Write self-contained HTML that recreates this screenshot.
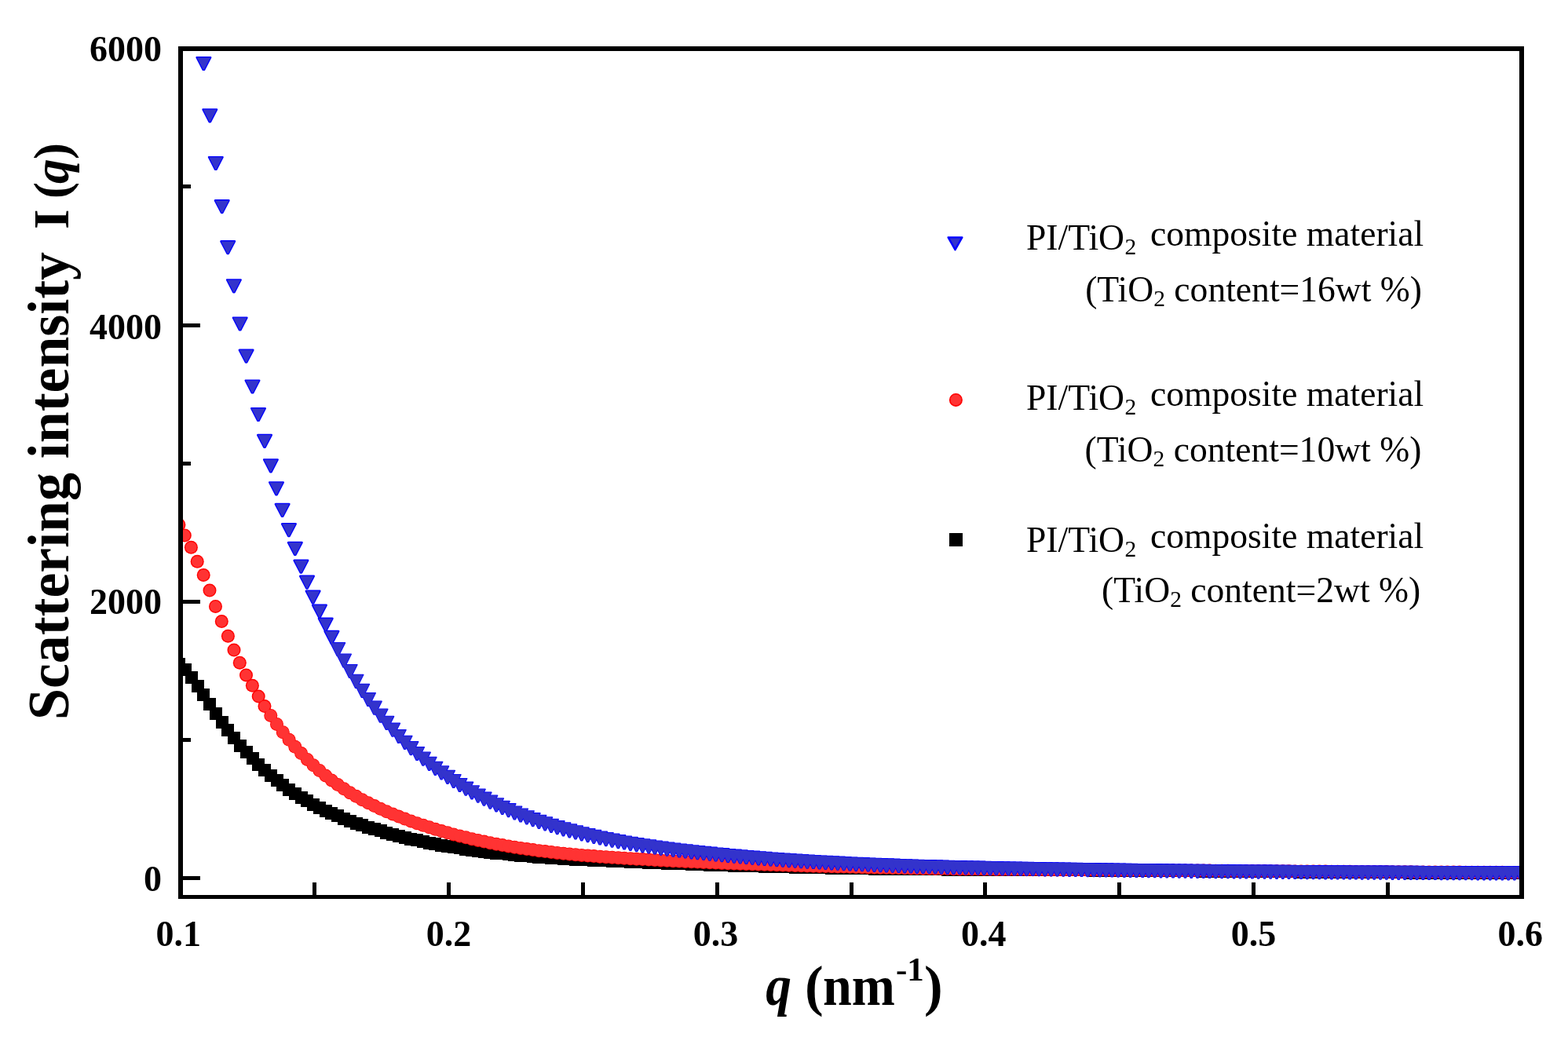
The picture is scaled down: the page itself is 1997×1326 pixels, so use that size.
<!DOCTYPE html>
<html><head><meta charset="utf-8"><title>Scattering intensity</title><style>
html,body{margin:0;padding:0;background:#fff;overflow:hidden}
svg{display:block}
text{font-family:"Liberation Serif","Times New Roman",serif;fill:#000}
.b{font-weight:bold}
</style></head><body>
<svg width="1997" height="1326" viewBox="0 0 1997 1326">
<defs><clipPath id="pa"><rect x="233" y="65" width="1702" height="1075"/></clipPath></defs>
<rect x="0" y="0" width="1997" height="1326" fill="#fff"/>
<g clip-path="url(#pa)">
<g fill="#000" shape-rendering="crispEdges">
<rect x="220.3" y="838" width="16" height="16"/>
<rect x="228.1" y="845" width="16" height="16"/>
<rect x="235.8" y="855.1" width="16" height="16"/>
<rect x="243.6" y="866.2" width="16" height="16"/>
<rect x="251.4" y="877" width="16" height="16"/>
<rect x="259.1" y="889.1" width="16" height="16"/>
<rect x="266.9" y="901.2" width="16" height="16"/>
<rect x="274.7" y="912" width="16" height="16"/>
<rect x="282.4" y="922.4" width="16" height="16"/>
<rect x="290.2" y="932.3" width="16" height="16"/>
<rect x="297.9" y="941.6" width="16" height="16"/>
<rect x="305.7" y="950.3" width="16" height="16"/>
<rect x="313.5" y="958.4" width="16" height="16"/>
<rect x="321.2" y="966" width="16" height="16"/>
<rect x="329" y="973.1" width="16" height="16"/>
<rect x="336.8" y="979.8" width="16" height="16"/>
<rect x="344.5" y="986.1" width="16" height="16"/>
<rect x="352.3" y="991.9" width="16" height="16"/>
<rect x="360.1" y="997.5" width="16" height="16"/>
<rect x="367.8" y="1002.7" width="16" height="16"/>
<rect x="375.6" y="1007.6" width="16" height="16"/>
<rect x="383.4" y="1012.2" width="16" height="16"/>
<rect x="391.1" y="1016.5" width="16" height="16"/>
<rect x="398.9" y="1020.6" width="16" height="16"/>
<rect x="406.7" y="1024.5" width="16" height="16"/>
<rect x="414.4" y="1028.1" width="16" height="16"/>
<rect x="422.2" y="1031.4" width="16" height="16"/>
<rect x="430" y="1034.6" width="16" height="16"/>
<rect x="437.7" y="1037.6" width="16" height="16"/>
<rect x="445.5" y="1040.5" width="16" height="16"/>
<rect x="453.2" y="1043.1" width="16" height="16"/>
<rect x="461" y="1045.7" width="16" height="16"/>
<rect x="468.8" y="1048.1" width="16" height="16"/>
<rect x="476.5" y="1050.4" width="16" height="16"/>
<rect x="484.3" y="1052.6" width="16" height="16"/>
<rect x="492.1" y="1054.7" width="16" height="16"/>
<rect x="499.8" y="1056.7" width="16" height="16"/>
<rect x="507.6" y="1058.6" width="16" height="16"/>
<rect x="515.4" y="1060.5" width="16" height="16"/>
<rect x="523.1" y="1062.2" width="16" height="16"/>
<rect x="530.9" y="1063.9" width="16" height="16"/>
<rect x="538.7" y="1065.5" width="16" height="16"/>
<rect x="546.4" y="1067" width="16" height="16"/>
<rect x="554.2" y="1068.5" width="16" height="16"/>
<rect x="562" y="1069.9" width="16" height="16"/>
<rect x="569.7" y="1071.2" width="16" height="16"/>
<rect x="577.5" y="1072.4" width="16" height="16"/>
<rect x="585.3" y="1073.6" width="16" height="16"/>
<rect x="593" y="1074.7" width="16" height="16"/>
<rect x="600.8" y="1075.8" width="16" height="16"/>
<rect x="608.5" y="1076.8" width="16" height="16"/>
<rect x="616.3" y="1077.7" width="16" height="16"/>
<rect x="624.1" y="1078.6" width="16" height="16"/>
<rect x="631.8" y="1079.4" width="16" height="16"/>
<rect x="639.6" y="1080.2" width="16" height="16"/>
<rect x="647.4" y="1081" width="16" height="16"/>
<rect x="655.1" y="1081.7" width="16" height="16"/>
<rect x="662.9" y="1082.4" width="16" height="16"/>
<rect x="670.7" y="1083" width="16" height="16"/>
<rect x="678.4" y="1083.6" width="16" height="16"/>
<rect x="686.2" y="1084.1" width="16" height="16"/>
<rect x="694" y="1084.6" width="16" height="16"/>
<rect x="701.7" y="1085.1" width="16" height="16"/>
<rect x="709.5" y="1085.6" width="16" height="16"/>
<rect x="717.3" y="1086.1" width="16" height="16"/>
<rect x="725" y="1086.5" width="16" height="16"/>
<rect x="732.8" y="1086.9" width="16" height="16"/>
<rect x="740.6" y="1087.3" width="16" height="16"/>
<rect x="748.3" y="1087.6" width="16" height="16"/>
<rect x="756.1" y="1088" width="16" height="16"/>
<rect x="763.8" y="1088.3" width="16" height="16"/>
<rect x="771.6" y="1088.7" width="16" height="16"/>
<rect x="779.4" y="1089" width="16" height="16"/>
<rect x="787.1" y="1089.4" width="16" height="16"/>
<rect x="794.9" y="1089.7" width="16" height="16"/>
<rect x="802.7" y="1090" width="16" height="16"/>
<rect x="810.4" y="1090.3" width="16" height="16"/>
<rect x="818.2" y="1090.6" width="16" height="16"/>
<rect x="826" y="1090.9" width="16" height="16"/>
<rect x="833.7" y="1091.2" width="16" height="16"/>
<rect x="841.5" y="1091.5" width="16" height="16"/>
<rect x="849.3" y="1091.8" width="16" height="16"/>
<rect x="857" y="1092.1" width="16" height="16"/>
<rect x="864.8" y="1092.4" width="16" height="16"/>
<rect x="872.6" y="1092.7" width="16" height="16"/>
<rect x="880.3" y="1092.9" width="16" height="16"/>
<rect x="888.1" y="1093.2" width="16" height="16"/>
<rect x="895.9" y="1093.5" width="16" height="16"/>
<rect x="903.6" y="1093.7" width="16" height="16"/>
<rect x="911.4" y="1094" width="16" height="16"/>
<rect x="919.2" y="1094.2" width="16" height="16"/>
<rect x="926.9" y="1094.5" width="16" height="16"/>
<rect x="934.7" y="1094.7" width="16" height="16"/>
<rect x="942.4" y="1094.9" width="16" height="16"/>
<rect x="950.2" y="1095.2" width="16" height="16"/>
<rect x="958" y="1095.4" width="16" height="16"/>
<rect x="965.7" y="1095.6" width="16" height="16"/>
<rect x="973.5" y="1095.8" width="16" height="16"/>
<rect x="981.3" y="1096" width="16" height="16"/>
<rect x="989" y="1096.2" width="16" height="16"/>
<rect x="996.8" y="1096.4" width="16" height="16"/>
<rect x="1004.6" y="1096.6" width="16" height="16"/>
<rect x="1012.3" y="1096.7" width="16" height="16"/>
<rect x="1020.1" y="1096.9" width="16" height="16"/>
<rect x="1027.9" y="1097.1" width="16" height="16"/>
<rect x="1035.6" y="1097.3" width="16" height="16"/>
<rect x="1043.4" y="1097.4" width="16" height="16"/>
<rect x="1051.2" y="1097.6" width="16" height="16"/>
<rect x="1058.9" y="1097.7" width="16" height="16"/>
<rect x="1066.7" y="1097.9" width="16" height="16"/>
<rect x="1074.5" y="1098" width="16" height="16"/>
<rect x="1082.2" y="1098.1" width="16" height="16"/>
<rect x="1090" y="1098.3" width="16" height="16"/>
<rect x="1097.7" y="1098.4" width="16" height="16"/>
<rect x="1105.5" y="1098.5" width="16" height="16"/>
<rect x="1113.3" y="1098.6" width="16" height="16"/>
<rect x="1121" y="1098.7" width="16" height="16"/>
<rect x="1128.8" y="1098.8" width="16" height="16"/>
<rect x="1136.6" y="1098.9" width="16" height="16"/>
<rect x="1144.3" y="1099" width="16" height="16"/>
<rect x="1152.1" y="1099.1" width="16" height="16"/>
<rect x="1159.9" y="1099.1" width="16" height="16"/>
<rect x="1167.6" y="1099.2" width="16" height="16"/>
<rect x="1175.4" y="1099.3" width="16" height="16"/>
<rect x="1183.2" y="1099.3" width="16" height="16"/>
<rect x="1190.9" y="1099.4" width="16" height="16"/>
<rect x="1198.7" y="1099.5" width="16" height="16"/>
<rect x="1206.5" y="1099.5" width="16" height="16"/>
<rect x="1214.2" y="1099.6" width="16" height="16"/>
<rect x="1222" y="1099.6" width="16" height="16"/>
<rect x="1229.8" y="1099.7" width="16" height="16"/>
<rect x="1237.5" y="1099.7" width="16" height="16"/>
<rect x="1245.3" y="1099.8" width="16" height="16"/>
<rect x="1253" y="1099.8" width="16" height="16"/>
<rect x="1260.8" y="1099.8" width="16" height="16"/>
<rect x="1268.6" y="1099.9" width="16" height="16"/>
<rect x="1276.3" y="1099.9" width="16" height="16"/>
<rect x="1284.1" y="1100" width="16" height="16"/>
<rect x="1291.9" y="1100" width="16" height="16"/>
<rect x="1299.6" y="1100" width="16" height="16"/>
<rect x="1307.4" y="1100.1" width="16" height="16"/>
<rect x="1315.2" y="1100.1" width="16" height="16"/>
<rect x="1322.9" y="1100.1" width="16" height="16"/>
<rect x="1330.7" y="1100.2" width="16" height="16"/>
<rect x="1338.5" y="1100.2" width="16" height="16"/>
<rect x="1346.2" y="1100.3" width="16" height="16"/>
<rect x="1354" y="1100.3" width="16" height="16"/>
<rect x="1361.8" y="1100.3" width="16" height="16"/>
<rect x="1369.5" y="1100.4" width="16" height="16"/>
<rect x="1377.3" y="1100.4" width="16" height="16"/>
<rect x="1385" y="1100.5" width="16" height="16"/>
<rect x="1392.8" y="1100.5" width="16" height="16"/>
<rect x="1400.6" y="1100.6" width="16" height="16"/>
<rect x="1408.3" y="1100.6" width="16" height="16"/>
<rect x="1416.1" y="1100.7" width="16" height="16"/>
<rect x="1423.9" y="1100.7" width="16" height="16"/>
<rect x="1431.6" y="1100.8" width="16" height="16"/>
<rect x="1439.4" y="1100.8" width="16" height="16"/>
<rect x="1447.2" y="1100.9" width="16" height="16"/>
<rect x="1454.9" y="1100.9" width="16" height="16"/>
<rect x="1462.7" y="1101" width="16" height="16"/>
<rect x="1470.5" y="1101.1" width="16" height="16"/>
<rect x="1478.2" y="1101.1" width="16" height="16"/>
<rect x="1486" y="1101.2" width="16" height="16"/>
<rect x="1493.8" y="1101.2" width="16" height="16"/>
<rect x="1501.5" y="1101.3" width="16" height="16"/>
<rect x="1509.3" y="1101.4" width="16" height="16"/>
<rect x="1517.1" y="1101.4" width="16" height="16"/>
<rect x="1524.8" y="1101.5" width="16" height="16"/>
<rect x="1532.6" y="1101.5" width="16" height="16"/>
<rect x="1540.3" y="1101.6" width="16" height="16"/>
<rect x="1548.1" y="1101.7" width="16" height="16"/>
<rect x="1555.9" y="1101.7" width="16" height="16"/>
<rect x="1563.6" y="1101.8" width="16" height="16"/>
<rect x="1571.4" y="1101.9" width="16" height="16"/>
<rect x="1579.2" y="1101.9" width="16" height="16"/>
<rect x="1586.9" y="1102" width="16" height="16"/>
<rect x="1594.7" y="1102.1" width="16" height="16"/>
<rect x="1602.5" y="1102.1" width="16" height="16"/>
<rect x="1610.2" y="1102.2" width="16" height="16"/>
<rect x="1618" y="1102.2" width="16" height="16"/>
<rect x="1625.8" y="1102.3" width="16" height="16"/>
<rect x="1633.5" y="1102.4" width="16" height="16"/>
<rect x="1641.3" y="1102.4" width="16" height="16"/>
<rect x="1649.1" y="1102.5" width="16" height="16"/>
<rect x="1656.8" y="1102.6" width="16" height="16"/>
<rect x="1664.6" y="1102.6" width="16" height="16"/>
<rect x="1672.4" y="1102.7" width="16" height="16"/>
<rect x="1680.1" y="1102.7" width="16" height="16"/>
<rect x="1687.9" y="1102.8" width="16" height="16"/>
<rect x="1695.6" y="1102.9" width="16" height="16"/>
<rect x="1703.4" y="1102.9" width="16" height="16"/>
<rect x="1711.2" y="1103" width="16" height="16"/>
<rect x="1718.9" y="1103" width="16" height="16"/>
<rect x="1726.7" y="1103.1" width="16" height="16"/>
<rect x="1734.5" y="1103.1" width="16" height="16"/>
<rect x="1742.2" y="1103.2" width="16" height="16"/>
<rect x="1750" y="1103.2" width="16" height="16"/>
<rect x="1757.8" y="1103.3" width="16" height="16"/>
<rect x="1765.5" y="1103.3" width="16" height="16"/>
<rect x="1773.3" y="1103.4" width="16" height="16"/>
<rect x="1781.1" y="1103.4" width="16" height="16"/>
<rect x="1788.8" y="1103.5" width="16" height="16"/>
<rect x="1796.6" y="1103.5" width="16" height="16"/>
<rect x="1804.4" y="1103.5" width="16" height="16"/>
<rect x="1812.1" y="1103.6" width="16" height="16"/>
<rect x="1819.9" y="1103.6" width="16" height="16"/>
<rect x="1827.7" y="1103.7" width="16" height="16"/>
<rect x="1835.4" y="1103.7" width="16" height="16"/>
<rect x="1843.2" y="1103.7" width="16" height="16"/>
<rect x="1850.9" y="1103.8" width="16" height="16"/>
<rect x="1858.7" y="1103.8" width="16" height="16"/>
<rect x="1866.5" y="1103.8" width="16" height="16"/>
<rect x="1874.2" y="1103.8" width="16" height="16"/>
<rect x="1882" y="1103.9" width="16" height="16"/>
<rect x="1889.8" y="1103.9" width="16" height="16"/>
<rect x="1897.5" y="1103.9" width="16" height="16"/>
<rect x="1905.3" y="1103.9" width="16" height="16"/>
<rect x="1913.1" y="1103.9" width="16" height="16"/>
<rect x="1920.8" y="1103.9" width="16" height="16"/>
<rect x="1928.6" y="1104" width="16" height="16"/>
<rect x="1936.4" y="1104" width="16" height="16"/>
</g>
<g fill="#ff0000">
<circle cx="227.9" cy="668.4" r="8.5"/>
<circle cx="235.3" cy="681.9" r="8.5"/>
<circle cx="243.4" cy="697.3" r="8.5"/>
<circle cx="251.2" cy="715.3" r="8.5"/>
<circle cx="259.2" cy="732.5" r="8.5"/>
<circle cx="267" cy="752.1" r="8.5"/>
<circle cx="274.5" cy="772.4" r="8.5"/>
<circle cx="282.3" cy="791.6" r="8.5"/>
<circle cx="290.4" cy="810.2" r="8.5"/>
<circle cx="298" cy="828.1" r="8.5"/>
<circle cx="305.3" cy="844.2" r="8.5"/>
<circle cx="313.5" cy="860" r="8.5"/>
<circle cx="321.4" cy="873.3" r="8.5"/>
<circle cx="329.2" cy="887" r="8.5"/>
<circle cx="337" cy="899.6" r="8.5"/>
<circle cx="344.8" cy="911.4" r="8.5"/>
<circle cx="352.5" cy="922.4" r="8.5"/>
<circle cx="360.3" cy="932.7" r="8.5"/>
<circle cx="368.1" cy="942.3" r="8.5"/>
<circle cx="375.8" cy="951.2" r="8.5"/>
<circle cx="383.6" cy="959.6" r="8.5"/>
<circle cx="391.4" cy="967.4" r="8.5"/>
<circle cx="399.1" cy="974.7" r="8.5"/>
<circle cx="406.9" cy="981.5" r="8.5"/>
<circle cx="414.7" cy="987.9" r="8.5"/>
<circle cx="422.4" cy="993.9" r="8.5"/>
<circle cx="430.2" cy="999.5" r="8.5"/>
<circle cx="438" cy="1004.8" r="8.5"/>
<circle cx="445.7" cy="1009.7" r="8.5"/>
<circle cx="453.5" cy="1014.3" r="8.5"/>
<circle cx="461.2" cy="1018.7" r="8.5"/>
<circle cx="469" cy="1022.8" r="8.5"/>
<circle cx="476.8" cy="1026.6" r="8.5"/>
<circle cx="484.5" cy="1030.2" r="8.5"/>
<circle cx="492.3" cy="1033.7" r="8.5"/>
<circle cx="500.1" cy="1036.9" r="8.5"/>
<circle cx="507.8" cy="1040.1" r="8.5"/>
<circle cx="515.6" cy="1043" r="8.5"/>
<circle cx="523.4" cy="1045.9" r="8.5"/>
<circle cx="531.1" cy="1048.7" r="8.5"/>
<circle cx="538.9" cy="1051.3" r="8.5"/>
<circle cx="546.7" cy="1053.8" r="8.5"/>
<circle cx="554.4" cy="1056.3" r="8.5"/>
<circle cx="562.2" cy="1058.6" r="8.5"/>
<circle cx="570" cy="1060.8" r="8.5"/>
<circle cx="577.7" cy="1062.9" r="8.5"/>
<circle cx="585.5" cy="1064.9" r="8.5"/>
<circle cx="593.3" cy="1066.8" r="8.5"/>
<circle cx="601" cy="1068.7" r="8.5"/>
<circle cx="608.8" cy="1070.4" r="8.5"/>
<circle cx="616.5" cy="1072.1" r="8.5"/>
<circle cx="624.3" cy="1073.7" r="8.5"/>
<circle cx="632.1" cy="1075.2" r="8.5"/>
<circle cx="639.8" cy="1076.6" r="8.5"/>
<circle cx="647.6" cy="1077.9" r="8.5"/>
<circle cx="655.4" cy="1079.2" r="8.5"/>
<circle cx="663.1" cy="1080.4" r="8.5"/>
<circle cx="670.9" cy="1081.6" r="8.5"/>
<circle cx="678.7" cy="1082.6" r="8.5"/>
<circle cx="686.4" cy="1083.7" r="8.5"/>
<circle cx="694.2" cy="1084.6" r="8.5"/>
<circle cx="702" cy="1085.5" r="8.5"/>
<circle cx="709.7" cy="1086.4" r="8.5"/>
<circle cx="717.5" cy="1087.2" r="8.5"/>
<circle cx="725.3" cy="1088" r="8.5"/>
<circle cx="733" cy="1088.7" r="8.5"/>
<circle cx="740.8" cy="1089.4" r="8.5"/>
<circle cx="748.6" cy="1090" r="8.5"/>
<circle cx="756.3" cy="1090.6" r="8.5"/>
<circle cx="764.1" cy="1091.2" r="8.5"/>
<circle cx="771.8" cy="1091.8" r="8.5"/>
<circle cx="779.6" cy="1092.3" r="8.5"/>
<circle cx="787.4" cy="1092.8" r="8.5"/>
<circle cx="795.1" cy="1093.3" r="8.5"/>
<circle cx="802.9" cy="1093.7" r="8.5"/>
<circle cx="810.7" cy="1094.2" r="8.5"/>
<circle cx="818.4" cy="1094.6" r="8.5"/>
<circle cx="826.2" cy="1095" r="8.5"/>
<circle cx="834" cy="1095.5" r="8.5"/>
<circle cx="841.7" cy="1095.9" r="8.5"/>
<circle cx="849.5" cy="1096.3" r="8.5"/>
<circle cx="857.3" cy="1096.7" r="8.5"/>
<circle cx="865" cy="1097" r="8.5"/>
<circle cx="872.8" cy="1097.4" r="8.5"/>
<circle cx="880.6" cy="1097.7" r="8.5"/>
<circle cx="888.3" cy="1098.1" r="8.5"/>
<circle cx="896.1" cy="1098.4" r="8.5"/>
<circle cx="903.9" cy="1098.8" r="8.5"/>
<circle cx="911.6" cy="1099.1" r="8.5"/>
<circle cx="919.4" cy="1099.4" r="8.5"/>
<circle cx="927.2" cy="1099.7" r="8.5"/>
<circle cx="934.9" cy="1100" r="8.5"/>
<circle cx="942.7" cy="1100.3" r="8.5"/>
<circle cx="950.4" cy="1100.5" r="8.5"/>
<circle cx="958.2" cy="1100.8" r="8.5"/>
<circle cx="966" cy="1101.1" r="8.5"/>
<circle cx="973.7" cy="1101.3" r="8.5"/>
<circle cx="981.5" cy="1101.6" r="8.5"/>
<circle cx="989.3" cy="1101.8" r="8.5"/>
<circle cx="997" cy="1102.1" r="8.5"/>
<circle cx="1004.8" cy="1102.3" r="8.5"/>
<circle cx="1012.6" cy="1102.5" r="8.5"/>
<circle cx="1020.3" cy="1102.7" r="8.5"/>
<circle cx="1028.1" cy="1103" r="8.5"/>
<circle cx="1035.9" cy="1103.2" r="8.5"/>
<circle cx="1043.6" cy="1103.4" r="8.5"/>
<circle cx="1051.4" cy="1103.6" r="8.5"/>
<circle cx="1059.2" cy="1103.8" r="8.5"/>
<circle cx="1066.9" cy="1104" r="8.5"/>
<circle cx="1074.7" cy="1104.1" r="8.5"/>
<circle cx="1082.5" cy="1104.3" r="8.5"/>
<circle cx="1090.2" cy="1104.5" r="8.5"/>
<circle cx="1098" cy="1104.7" r="8.5"/>
<circle cx="1105.7" cy="1104.9" r="8.5"/>
<circle cx="1113.5" cy="1105" r="8.5"/>
<circle cx="1121.3" cy="1105.2" r="8.5"/>
<circle cx="1129" cy="1105.3" r="8.5"/>
<circle cx="1136.8" cy="1105.5" r="8.5"/>
<circle cx="1144.6" cy="1105.6" r="8.5"/>
<circle cx="1152.3" cy="1105.8" r="8.5"/>
<circle cx="1160.1" cy="1105.9" r="8.5"/>
<circle cx="1167.9" cy="1106" r="8.5"/>
<circle cx="1175.6" cy="1106.2" r="8.5"/>
<circle cx="1183.4" cy="1106.3" r="8.5"/>
<circle cx="1191.2" cy="1106.4" r="8.5"/>
<circle cx="1198.9" cy="1106.5" r="8.5"/>
<circle cx="1206.7" cy="1106.6" r="8.5"/>
<circle cx="1214.5" cy="1106.8" r="8.5"/>
<circle cx="1222.2" cy="1106.9" r="8.5"/>
<circle cx="1230" cy="1106.9" r="8.5"/>
<circle cx="1237.8" cy="1107" r="8.5"/>
<circle cx="1245.5" cy="1107.1" r="8.5"/>
<circle cx="1253.3" cy="1107.2" r="8.5"/>
<circle cx="1261" cy="1107.3" r="8.5"/>
<circle cx="1268.8" cy="1107.4" r="8.5"/>
<circle cx="1276.6" cy="1107.4" r="8.5"/>
<circle cx="1284.3" cy="1107.5" r="8.5"/>
<circle cx="1292.1" cy="1107.6" r="8.5"/>
<circle cx="1299.9" cy="1107.6" r="8.5"/>
<circle cx="1307.6" cy="1107.7" r="8.5"/>
<circle cx="1315.4" cy="1107.7" r="8.5"/>
<circle cx="1323.2" cy="1107.8" r="8.5"/>
<circle cx="1330.9" cy="1107.9" r="8.5"/>
<circle cx="1338.7" cy="1107.9" r="8.5"/>
<circle cx="1346.5" cy="1108" r="8.5"/>
<circle cx="1354.2" cy="1108" r="8.5"/>
<circle cx="1362" cy="1108.1" r="8.5"/>
<circle cx="1369.8" cy="1108.1" r="8.5"/>
<circle cx="1377.5" cy="1108.1" r="8.5"/>
<circle cx="1385.3" cy="1108.2" r="8.5"/>
<circle cx="1393" cy="1108.2" r="8.5"/>
<circle cx="1400.8" cy="1108.3" r="8.5"/>
<circle cx="1408.6" cy="1108.3" r="8.5"/>
<circle cx="1416.3" cy="1108.4" r="8.5"/>
<circle cx="1424.1" cy="1108.4" r="8.5"/>
<circle cx="1431.9" cy="1108.5" r="8.5"/>
<circle cx="1439.6" cy="1108.5" r="8.5"/>
<circle cx="1447.4" cy="1108.5" r="8.5"/>
<circle cx="1455.2" cy="1108.6" r="8.5"/>
<circle cx="1462.9" cy="1108.6" r="8.5"/>
<circle cx="1470.7" cy="1108.7" r="8.5"/>
<circle cx="1478.5" cy="1108.7" r="8.5"/>
<circle cx="1486.2" cy="1108.8" r="8.5"/>
<circle cx="1494" cy="1108.8" r="8.5"/>
<circle cx="1501.8" cy="1108.9" r="8.5"/>
<circle cx="1509.5" cy="1108.9" r="8.5"/>
<circle cx="1517.3" cy="1109" r="8.5"/>
<circle cx="1525.1" cy="1109" r="8.5"/>
<circle cx="1532.8" cy="1109.1" r="8.5"/>
<circle cx="1540.6" cy="1109.1" r="8.5"/>
<circle cx="1548.3" cy="1109.2" r="8.5"/>
<circle cx="1556.1" cy="1109.3" r="8.5"/>
<circle cx="1563.9" cy="1109.3" r="8.5"/>
<circle cx="1571.6" cy="1109.4" r="8.5"/>
<circle cx="1579.4" cy="1109.4" r="8.5"/>
<circle cx="1587.2" cy="1109.5" r="8.5"/>
<circle cx="1594.9" cy="1109.5" r="8.5"/>
<circle cx="1602.7" cy="1109.6" r="8.5"/>
<circle cx="1610.5" cy="1109.6" r="8.5"/>
<circle cx="1618.2" cy="1109.7" r="8.5"/>
<circle cx="1626" cy="1109.7" r="8.5"/>
<circle cx="1633.8" cy="1109.8" r="8.5"/>
<circle cx="1641.5" cy="1109.8" r="8.5"/>
<circle cx="1649.3" cy="1109.9" r="8.5"/>
<circle cx="1657.1" cy="1109.9" r="8.5"/>
<circle cx="1664.8" cy="1110" r="8.5"/>
<circle cx="1672.6" cy="1110" r="8.5"/>
<circle cx="1680.4" cy="1110.1" r="8.5"/>
<circle cx="1688.1" cy="1110.1" r="8.5"/>
<circle cx="1695.9" cy="1110.2" r="8.5"/>
<circle cx="1703.6" cy="1110.2" r="8.5"/>
<circle cx="1711.4" cy="1110.3" r="8.5"/>
<circle cx="1719.2" cy="1110.3" r="8.5"/>
<circle cx="1726.9" cy="1110.4" r="8.5"/>
<circle cx="1734.7" cy="1110.4" r="8.5"/>
<circle cx="1742.5" cy="1110.5" r="8.5"/>
<circle cx="1750.2" cy="1110.5" r="8.5"/>
<circle cx="1758" cy="1110.6" r="8.5"/>
<circle cx="1765.8" cy="1110.6" r="8.5"/>
<circle cx="1773.5" cy="1110.7" r="8.5"/>
<circle cx="1781.3" cy="1110.7" r="8.5"/>
<circle cx="1789.1" cy="1110.8" r="8.5"/>
<circle cx="1796.8" cy="1110.8" r="8.5"/>
<circle cx="1804.6" cy="1110.9" r="8.5"/>
<circle cx="1812.4" cy="1110.9" r="8.5"/>
<circle cx="1820.1" cy="1110.9" r="8.5"/>
<circle cx="1827.9" cy="1111" r="8.5"/>
<circle cx="1835.7" cy="1111" r="8.5"/>
<circle cx="1843.4" cy="1111.1" r="8.5"/>
<circle cx="1851.2" cy="1111.1" r="8.5"/>
<circle cx="1858.9" cy="1111.1" r="8.5"/>
<circle cx="1866.7" cy="1111.2" r="8.5"/>
<circle cx="1874.5" cy="1111.2" r="8.5"/>
<circle cx="1882.2" cy="1111.2" r="8.5"/>
<circle cx="1890" cy="1111.3" r="8.5"/>
<circle cx="1897.8" cy="1111.3" r="8.5"/>
<circle cx="1905.5" cy="1111.3" r="8.5"/>
<circle cx="1913.3" cy="1111.3" r="8.5"/>
<circle cx="1921.1" cy="1111.4" r="8.5"/>
<circle cx="1928.8" cy="1111.4" r="8.5"/>
<circle cx="1936.6" cy="1111.4" r="8.5"/>
<circle cx="1944.4" cy="1111.4" r="8.5"/>
</g>
<g fill="#ff3333">
<circle cx="227.9" cy="668.4" r="7.1"/>
<circle cx="235.3" cy="681.9" r="7.1"/>
<circle cx="243.4" cy="697.3" r="7.1"/>
<circle cx="251.2" cy="715.3" r="7.1"/>
<circle cx="259.2" cy="732.5" r="7.1"/>
<circle cx="267" cy="752.1" r="7.1"/>
<circle cx="274.5" cy="772.4" r="7.1"/>
<circle cx="282.3" cy="791.6" r="7.1"/>
<circle cx="290.4" cy="810.2" r="7.1"/>
<circle cx="298" cy="828.1" r="7.1"/>
<circle cx="305.3" cy="844.2" r="7.1"/>
<circle cx="313.5" cy="860" r="7.1"/>
<circle cx="321.4" cy="873.3" r="7.1"/>
<circle cx="329.2" cy="887" r="7.1"/>
<circle cx="337" cy="899.6" r="7.1"/>
<circle cx="344.8" cy="911.4" r="7.7"/>
<circle cx="352.5" cy="922.4" r="7.7"/>
<circle cx="360.3" cy="932.7" r="7.7"/>
<circle cx="368.1" cy="942.3" r="7.7"/>
<circle cx="375.8" cy="951.2" r="7.7"/>
<circle cx="383.6" cy="959.6" r="7.7"/>
<circle cx="391.4" cy="967.4" r="7.7"/>
<circle cx="399.1" cy="974.7" r="7.7"/>
<circle cx="406.9" cy="981.5" r="7.7"/>
<circle cx="414.7" cy="987.9" r="7.7"/>
<circle cx="422.4" cy="993.9" r="7.7"/>
<circle cx="430.2" cy="999.5" r="7.7"/>
<circle cx="438" cy="1004.8" r="7.7"/>
<circle cx="445.7" cy="1009.7" r="7.7"/>
<circle cx="453.5" cy="1014.3" r="7.7"/>
<circle cx="461.2" cy="1018.7" r="7.7"/>
<circle cx="469" cy="1022.8" r="7.7"/>
<circle cx="476.8" cy="1026.6" r="7.7"/>
<circle cx="484.5" cy="1030.2" r="7.7"/>
<circle cx="492.3" cy="1033.7" r="7.7"/>
<circle cx="500.1" cy="1036.9" r="7.7"/>
<circle cx="507.8" cy="1040.1" r="7.7"/>
<circle cx="515.6" cy="1043" r="7.7"/>
<circle cx="523.4" cy="1045.9" r="7.7"/>
<circle cx="531.1" cy="1048.7" r="7.7"/>
<circle cx="538.9" cy="1051.3" r="7.7"/>
<circle cx="546.7" cy="1053.8" r="7.7"/>
<circle cx="554.4" cy="1056.3" r="7.7"/>
<circle cx="562.2" cy="1058.6" r="7.7"/>
<circle cx="570" cy="1060.8" r="7.7"/>
<circle cx="577.7" cy="1062.9" r="7.7"/>
<circle cx="585.5" cy="1064.9" r="7.7"/>
<circle cx="593.3" cy="1066.8" r="7.7"/>
<circle cx="601" cy="1068.7" r="7.7"/>
<circle cx="608.8" cy="1070.4" r="7.7"/>
<circle cx="616.5" cy="1072.1" r="7.7"/>
<circle cx="624.3" cy="1073.7" r="7.7"/>
<circle cx="632.1" cy="1075.2" r="7.7"/>
<circle cx="639.8" cy="1076.6" r="7.7"/>
<circle cx="647.6" cy="1077.9" r="7.7"/>
<circle cx="655.4" cy="1079.2" r="7.7"/>
<circle cx="663.1" cy="1080.4" r="7.7"/>
<circle cx="670.9" cy="1081.6" r="7.7"/>
<circle cx="678.7" cy="1082.6" r="7.7"/>
<circle cx="686.4" cy="1083.7" r="7.7"/>
<circle cx="694.2" cy="1084.6" r="7.7"/>
<circle cx="702" cy="1085.5" r="7.7"/>
<circle cx="709.7" cy="1086.4" r="7.7"/>
<circle cx="717.5" cy="1087.2" r="7.7"/>
<circle cx="725.3" cy="1088" r="7.7"/>
<circle cx="733" cy="1088.7" r="7.7"/>
<circle cx="740.8" cy="1089.4" r="7.7"/>
<circle cx="748.6" cy="1090" r="7.7"/>
<circle cx="756.3" cy="1090.6" r="7.7"/>
<circle cx="764.1" cy="1091.2" r="7.7"/>
<circle cx="771.8" cy="1091.8" r="7.7"/>
<circle cx="779.6" cy="1092.3" r="7.7"/>
<circle cx="787.4" cy="1092.8" r="7.7"/>
<circle cx="795.1" cy="1093.3" r="7.7"/>
<circle cx="802.9" cy="1093.7" r="7.7"/>
<circle cx="810.7" cy="1094.2" r="7.7"/>
<circle cx="818.4" cy="1094.6" r="7.7"/>
<circle cx="826.2" cy="1095" r="7.7"/>
<circle cx="834" cy="1095.5" r="7.7"/>
<circle cx="841.7" cy="1095.9" r="7.7"/>
<circle cx="849.5" cy="1096.3" r="7.7"/>
<circle cx="857.3" cy="1096.7" r="7.7"/>
<circle cx="865" cy="1097" r="7.7"/>
<circle cx="872.8" cy="1097.4" r="7.7"/>
<circle cx="880.6" cy="1097.7" r="7.7"/>
<circle cx="888.3" cy="1098.1" r="7.7"/>
<circle cx="896.1" cy="1098.4" r="7.7"/>
<circle cx="903.9" cy="1098.8" r="7.7"/>
<circle cx="911.6" cy="1099.1" r="7.7"/>
<circle cx="919.4" cy="1099.4" r="7.7"/>
<circle cx="927.2" cy="1099.7" r="7.7"/>
<circle cx="934.9" cy="1100" r="7.7"/>
<circle cx="942.7" cy="1100.3" r="7.7"/>
<circle cx="950.4" cy="1100.5" r="7.7"/>
<circle cx="958.2" cy="1100.8" r="7.7"/>
<circle cx="966" cy="1101.1" r="7.7"/>
<circle cx="973.7" cy="1101.3" r="7.7"/>
<circle cx="981.5" cy="1101.6" r="7.7"/>
<circle cx="989.3" cy="1101.8" r="7.7"/>
<circle cx="997" cy="1102.1" r="7.7"/>
<circle cx="1004.8" cy="1102.3" r="7.7"/>
<circle cx="1012.6" cy="1102.5" r="7.7"/>
<circle cx="1020.3" cy="1102.7" r="7.7"/>
<circle cx="1028.1" cy="1103" r="7.7"/>
<circle cx="1035.9" cy="1103.2" r="7.7"/>
<circle cx="1043.6" cy="1103.4" r="7.7"/>
<circle cx="1051.4" cy="1103.6" r="7.7"/>
<circle cx="1059.2" cy="1103.8" r="7.7"/>
<circle cx="1066.9" cy="1104" r="7.7"/>
<circle cx="1074.7" cy="1104.1" r="7.7"/>
<circle cx="1082.5" cy="1104.3" r="7.7"/>
<circle cx="1090.2" cy="1104.5" r="7.7"/>
<circle cx="1098" cy="1104.7" r="7.7"/>
<circle cx="1105.7" cy="1104.9" r="7.7"/>
<circle cx="1113.5" cy="1105" r="7.7"/>
<circle cx="1121.3" cy="1105.2" r="7.7"/>
<circle cx="1129" cy="1105.3" r="7.7"/>
<circle cx="1136.8" cy="1105.5" r="7.7"/>
<circle cx="1144.6" cy="1105.6" r="7.7"/>
<circle cx="1152.3" cy="1105.8" r="7.7"/>
<circle cx="1160.1" cy="1105.9" r="7.7"/>
<circle cx="1167.9" cy="1106" r="7.7"/>
<circle cx="1175.6" cy="1106.2" r="7.7"/>
<circle cx="1183.4" cy="1106.3" r="7.7"/>
<circle cx="1191.2" cy="1106.4" r="7.7"/>
<circle cx="1198.9" cy="1106.5" r="7.7"/>
<circle cx="1206.7" cy="1106.6" r="7.7"/>
<circle cx="1214.5" cy="1106.8" r="7.7"/>
<circle cx="1222.2" cy="1106.9" r="7.7"/>
<circle cx="1230" cy="1106.9" r="7.7"/>
<circle cx="1237.8" cy="1107" r="7.7"/>
<circle cx="1245.5" cy="1107.1" r="7.7"/>
<circle cx="1253.3" cy="1107.2" r="7.7"/>
<circle cx="1261" cy="1107.3" r="7.7"/>
<circle cx="1268.8" cy="1107.4" r="7.7"/>
<circle cx="1276.6" cy="1107.4" r="7.7"/>
<circle cx="1284.3" cy="1107.5" r="7.7"/>
<circle cx="1292.1" cy="1107.6" r="7.7"/>
<circle cx="1299.9" cy="1107.6" r="7.7"/>
<circle cx="1307.6" cy="1107.7" r="7.7"/>
<circle cx="1315.4" cy="1107.7" r="7.7"/>
<circle cx="1323.2" cy="1107.8" r="7.7"/>
<circle cx="1330.9" cy="1107.9" r="7.7"/>
<circle cx="1338.7" cy="1107.9" r="7.7"/>
<circle cx="1346.5" cy="1108" r="7.7"/>
<circle cx="1354.2" cy="1108" r="7.7"/>
<circle cx="1362" cy="1108.1" r="7.7"/>
<circle cx="1369.8" cy="1108.1" r="7.7"/>
<circle cx="1377.5" cy="1108.1" r="7.7"/>
<circle cx="1385.3" cy="1108.2" r="7.7"/>
<circle cx="1393" cy="1108.2" r="7.7"/>
<circle cx="1400.8" cy="1108.3" r="7.7"/>
<circle cx="1408.6" cy="1108.3" r="7.7"/>
<circle cx="1416.3" cy="1108.4" r="7.7"/>
<circle cx="1424.1" cy="1108.4" r="7.7"/>
<circle cx="1431.9" cy="1108.5" r="7.7"/>
<circle cx="1439.6" cy="1108.5" r="7.7"/>
<circle cx="1447.4" cy="1108.5" r="7.7"/>
<circle cx="1455.2" cy="1108.6" r="7.7"/>
<circle cx="1462.9" cy="1108.6" r="7.7"/>
<circle cx="1470.7" cy="1108.7" r="7.7"/>
<circle cx="1478.5" cy="1108.7" r="7.7"/>
<circle cx="1486.2" cy="1108.8" r="7.7"/>
<circle cx="1494" cy="1108.8" r="7.7"/>
<circle cx="1501.8" cy="1108.9" r="7.7"/>
<circle cx="1509.5" cy="1108.9" r="7.7"/>
<circle cx="1517.3" cy="1109" r="7.7"/>
<circle cx="1525.1" cy="1109" r="7.7"/>
<circle cx="1532.8" cy="1109.1" r="7.7"/>
<circle cx="1540.6" cy="1109.1" r="7.7"/>
<circle cx="1548.3" cy="1109.2" r="7.7"/>
<circle cx="1556.1" cy="1109.3" r="7.7"/>
<circle cx="1563.9" cy="1109.3" r="7.7"/>
<circle cx="1571.6" cy="1109.4" r="7.7"/>
<circle cx="1579.4" cy="1109.4" r="7.7"/>
<circle cx="1587.2" cy="1109.5" r="7.7"/>
<circle cx="1594.9" cy="1109.5" r="7.7"/>
<circle cx="1602.7" cy="1109.6" r="7.7"/>
<circle cx="1610.5" cy="1109.6" r="7.7"/>
<circle cx="1618.2" cy="1109.7" r="7.7"/>
<circle cx="1626" cy="1109.7" r="7.7"/>
<circle cx="1633.8" cy="1109.8" r="7.7"/>
<circle cx="1641.5" cy="1109.8" r="7.7"/>
<circle cx="1649.3" cy="1109.9" r="7.7"/>
<circle cx="1657.1" cy="1109.9" r="7.7"/>
<circle cx="1664.8" cy="1110" r="7.7"/>
<circle cx="1672.6" cy="1110" r="7.7"/>
<circle cx="1680.4" cy="1110.1" r="7.7"/>
<circle cx="1688.1" cy="1110.1" r="7.7"/>
<circle cx="1695.9" cy="1110.2" r="7.7"/>
<circle cx="1703.6" cy="1110.2" r="7.7"/>
<circle cx="1711.4" cy="1110.3" r="7.7"/>
<circle cx="1719.2" cy="1110.3" r="7.7"/>
<circle cx="1726.9" cy="1110.4" r="7.7"/>
<circle cx="1734.7" cy="1110.4" r="7.7"/>
<circle cx="1742.5" cy="1110.5" r="7.7"/>
<circle cx="1750.2" cy="1110.5" r="7.7"/>
<circle cx="1758" cy="1110.6" r="7.7"/>
<circle cx="1765.8" cy="1110.6" r="7.7"/>
<circle cx="1773.5" cy="1110.7" r="7.7"/>
<circle cx="1781.3" cy="1110.7" r="7.7"/>
<circle cx="1789.1" cy="1110.8" r="7.7"/>
<circle cx="1796.8" cy="1110.8" r="7.7"/>
<circle cx="1804.6" cy="1110.9" r="7.7"/>
<circle cx="1812.4" cy="1110.9" r="7.7"/>
<circle cx="1820.1" cy="1110.9" r="7.7"/>
<circle cx="1827.9" cy="1111" r="7.7"/>
<circle cx="1835.7" cy="1111" r="7.7"/>
<circle cx="1843.4" cy="1111.1" r="7.7"/>
<circle cx="1851.2" cy="1111.1" r="7.7"/>
<circle cx="1858.9" cy="1111.1" r="7.7"/>
<circle cx="1866.7" cy="1111.2" r="7.7"/>
<circle cx="1874.5" cy="1111.2" r="7.7"/>
<circle cx="1882.2" cy="1111.2" r="7.7"/>
<circle cx="1890" cy="1111.3" r="7.7"/>
<circle cx="1897.8" cy="1111.3" r="7.7"/>
<circle cx="1905.5" cy="1111.3" r="7.7"/>
<circle cx="1913.3" cy="1111.3" r="7.7"/>
<circle cx="1921.1" cy="1111.4" r="7.7"/>
<circle cx="1928.8" cy="1111.4" r="7.7"/>
<circle cx="1936.6" cy="1111.4" r="7.7"/>
<circle cx="1944.4" cy="1111.4" r="7.7"/>
</g>
<g fill="#0000ff" stroke="#0000ff" stroke-linejoin="round">
<polygon stroke-width="2.6" points="250.7,73.2 268.1,73.2 260,88.8 258.8,88.8"/>
<polygon stroke-width="2.6" points="258.6,139.5 276,139.5 267.9,155.1 266.7,155.1"/>
<polygon stroke-width="2.6" points="266.1,200.2 283.5,200.2 275.4,215.8 274.2,215.8"/>
<polygon stroke-width="2.6" points="274,255.4 291.4,255.4 283.3,271 282.1,271"/>
<polygon stroke-width="2.6" points="281.5,307.4 298.9,307.4 290.8,323 289.6,323"/>
<polygon stroke-width="2.6" points="289.2,356.5 306.6,356.5 298.5,372.1 297.3,372.1"/>
<polygon stroke-width="2.6" points="297,404.7 314.4,404.7 306.3,420.3 305.1,420.3"/>
<polygon stroke-width="2.6" points="304.9,445.8 322.3,445.8 314.2,461.4 313,461.4"/>
<polygon stroke-width="2.6" points="312.8,484.7 330.2,484.7 322.1,500.3 320.9,500.3"/>
<polygon stroke-width="2.6" points="320.3,520.2 337.7,520.2 329.6,535.8 328.4,535.8"/>
<polygon stroke-width="2.6" points="328.3,554.1 345.7,554.1 337.6,569.7 336.4,569.7"/>
<polygon stroke-width="2.6" points="336.2,585.5 353.6,585.5 345.5,601.1 344.3,601.1"/>
<polygon stroke-width="2.6" points="343.3,614.5 360.7,614.5 352.6,630.1 351.4,630.1"/>
<polygon stroke-width="2.6" points="350.9,642.1 368.3,642.1 360.2,657.7 359,657.7"/>
<polygon stroke-width="2.6" points="359.2,667.3 376.6,667.3 368.5,682.9 367.3,682.9"/>
<polygon stroke-width="2.6" points="367.1,691.1 384.5,691.1 376.4,706.7 375.2,706.7"/>
<polygon stroke-width="2.6" points="374.7,713.8 392.1,713.8 384,729.4 382.8,729.4"/>
<polygon stroke-width="2.6" points="382.3,733.8 399.7,733.8 391.6,749.4 390.4,749.4"/>
<polygon stroke-width="2.6" points="389.9,752.8 407.3,752.8 399.2,768.4 398,768.4"/>
<polygon stroke-width="2.6" points="398.2,770.8 415.6,770.8 407.5,786.4 406.3,786.4"/>
<polygon stroke-width="2.6" points="406,787.9 423.4,787.9 415.3,803.5 414.1,803.5"/>
<polygon stroke-width="2.6" points="413.7,804.1 431.1,804.1 423,819.7 421.8,819.7"/>
<polygon stroke-width="1.6" points="421,818.8 439.4,818.8 431.1,835.4 429.3,835.4"/>
<polygon stroke-width="1.6" points="428.8,833.2 447.2,833.2 438.9,849.8 437.1,849.8"/>
<polygon stroke-width="1.6" points="436.5,846.7 454.9,846.7 446.6,863.3 444.8,863.3"/>
<polygon stroke-width="1.6" points="444.3,859.5 462.7,859.5 454.4,876.1 452.6,876.1"/>
<polygon stroke-width="1.6" points="452.1,871.5 470.4,871.5 462.1,888.1 460.4,888.1"/>
<polygon stroke-width="1.6" points="459.8,882.7 478.2,882.7 469.9,899.3 468.1,899.3"/>
<polygon stroke-width="1.6" points="467.6,893.3 486,893.3 477.7,909.9 475.9,909.9"/>
<polygon stroke-width="1.6" points="475.3,903.3 493.7,903.3 485.4,919.9 483.6,919.9"/>
<polygon stroke-width="1.6" points="483.1,912.6 501.5,912.6 493.2,929.2 491.4,929.2"/>
<polygon stroke-width="1.6" points="490.9,921.4 509.3,921.4 501,938 499.2,938"/>
<polygon stroke-width="1.6" points="498.6,929.7 517,929.7 508.7,946.3 506.9,946.3"/>
<polygon stroke-width="1.6" points="506.4,937.5 524.8,937.5 516.5,954.1 514.7,954.1"/>
<polygon stroke-width="1.6" points="514.2,944.8 532.6,944.8 524.3,961.4 522.5,961.4"/>
<polygon stroke-width="1.6" points="521.9,951.7 540.3,951.7 532,968.3 530.2,968.3"/>
<polygon stroke-width="1.6" points="529.7,958.3 548.1,958.3 539.8,974.9 538,974.9"/>
<polygon stroke-width="1.6" points="537.5,964.5 555.9,964.5 547.6,981.1 545.8,981.1"/>
<polygon stroke-width="1.6" points="545.2,970.5 563.6,970.5 555.3,987.1 553.5,987.1"/>
<polygon stroke-width="1.6" points="553,976.1 571.4,976.1 563.1,992.7 561.3,992.7"/>
<polygon stroke-width="1.6" points="560.8,981.6 579.2,981.6 570.9,998.2 569.1,998.2"/>
<polygon stroke-width="1.6" points="568.5,986.7 586.9,986.7 578.6,1003.3 576.8,1003.3"/>
<polygon stroke-width="1.6" points="576.3,991.7 594.7,991.7 586.4,1008.3 584.6,1008.3"/>
<polygon stroke-width="1.6" points="584.1,996.4 602.5,996.4 594.2,1013 592.4,1013"/>
<polygon stroke-width="1.6" points="591.8,1001 610.2,1001 601.9,1017.6 600.1,1017.6"/>
<polygon stroke-width="1.6" points="599.6,1005.3 618,1005.3 609.7,1021.9 607.9,1021.9"/>
<polygon stroke-width="1.6" points="607.3,1009.4 625.8,1009.4 617.4,1026 615.6,1026"/>
<polygon stroke-width="1.6" points="615.1,1013.3 633.5,1013.3 625.2,1029.9 623.4,1029.9"/>
<polygon stroke-width="1.6" points="622.9,1017 641.3,1017 633,1033.6 631.2,1033.6"/>
<polygon stroke-width="1.6" points="630.6,1020.6 649,1020.6 640.7,1037.2 638.9,1037.2"/>
<polygon stroke-width="1.6" points="638.4,1023.9 656.8,1023.9 648.5,1040.5 646.7,1040.5"/>
<polygon stroke-width="1.6" points="646.2,1027.2 664.6,1027.2 656.3,1043.8 654.5,1043.8"/>
<polygon stroke-width="1.6" points="653.9,1030.2 672.3,1030.2 664,1046.8 662.2,1046.8"/>
<polygon stroke-width="1.6" points="661.7,1033.1 680.1,1033.1 671.8,1049.7 670,1049.7"/>
<polygon stroke-width="1.6" points="669.5,1035.9 687.9,1035.9 679.6,1052.5 677.8,1052.5"/>
<polygon stroke-width="1.6" points="677.2,1038.6 695.6,1038.6 687.3,1055.2 685.5,1055.2"/>
<polygon stroke-width="1.6" points="685,1041.1 703.4,1041.1 695.1,1057.7 693.3,1057.7"/>
<polygon stroke-width="1.6" points="692.8,1043.5 711.2,1043.5 702.9,1060.1 701.1,1060.1"/>
<polygon stroke-width="1.6" points="700.5,1045.8 718.9,1045.8 710.6,1062.4 708.8,1062.4"/>
<polygon stroke-width="1.6" points="708.3,1048 726.7,1048 718.4,1064.6 716.6,1064.6"/>
<polygon stroke-width="1.6" points="716.1,1050 734.5,1050 726.2,1066.6 724.4,1066.6"/>
<polygon stroke-width="1.6" points="723.8,1052.1 742.2,1052.1 733.9,1068.7 732.1,1068.7"/>
<polygon stroke-width="1.6" points="731.6,1054 750,1054 741.7,1070.6 739.9,1070.6"/>
<polygon stroke-width="1.6" points="739.4,1055.8 757.8,1055.8 749.5,1072.4 747.7,1072.4"/>
<polygon stroke-width="1.6" points="747.1,1057.5 765.5,1057.5 757.2,1074.1 755.4,1074.1"/>
<polygon stroke-width="1.6" points="754.9,1059.2 773.3,1059.2 765,1075.8 763.2,1075.8"/>
<polygon stroke-width="1.6" points="762.6,1060.8 781,1060.8 772.7,1077.4 770.9,1077.4"/>
<polygon stroke-width="1.6" points="770.4,1062.3 788.8,1062.3 780.5,1078.9 778.7,1078.9"/>
<polygon stroke-width="1.6" points="778.2,1063.8 796.6,1063.8 788.3,1080.4 786.5,1080.4"/>
<polygon stroke-width="1.6" points="785.9,1065.2 804.3,1065.2 796,1081.8 794.2,1081.8"/>
<polygon stroke-width="1.6" points="793.7,1066.5 812.1,1066.5 803.8,1083.1 802,1083.1"/>
<polygon stroke-width="1.6" points="801.5,1067.8 819.9,1067.8 811.6,1084.4 809.8,1084.4"/>
<polygon stroke-width="1.6" points="809.2,1069 827.6,1069 819.3,1085.6 817.5,1085.6"/>
<polygon stroke-width="1.6" points="817,1070.1 835.4,1070.1 827.1,1086.7 825.3,1086.7"/>
<polygon stroke-width="1.6" points="824.8,1071.2 843.2,1071.2 834.9,1087.8 833.1,1087.8"/>
<polygon stroke-width="1.6" points="832.5,1072.3 850.9,1072.3 842.6,1088.9 840.8,1088.9"/>
<polygon stroke-width="1.6" points="840.3,1073.3 858.7,1073.3 850.4,1089.9 848.6,1089.9"/>
<polygon stroke-width="1.6" points="848.1,1074.3 866.5,1074.3 858.2,1090.9 856.4,1090.9"/>
<polygon stroke-width="1.6" points="855.8,1075.2 874.2,1075.2 865.9,1091.8 864.1,1091.8"/>
<polygon stroke-width="1.6" points="863.6,1076.1 882,1076.1 873.7,1092.7 871.9,1092.7"/>
<polygon stroke-width="1.6" points="871.4,1077 889.8,1077 881.5,1093.6 879.7,1093.6"/>
<polygon stroke-width="1.6" points="879.1,1077.8 897.5,1077.8 889.2,1094.4 887.4,1094.4"/>
<polygon stroke-width="1.6" points="886.9,1078.6 905.3,1078.6 897,1095.2 895.2,1095.2"/>
<polygon stroke-width="1.6" points="894.7,1079.4 913.1,1079.4 904.8,1096 903,1096"/>
<polygon stroke-width="1.6" points="902.4,1080.2 920.8,1080.2 912.5,1096.8 910.7,1096.8"/>
<polygon stroke-width="1.6" points="910.2,1080.9 928.6,1080.9 920.3,1097.5 918.5,1097.5"/>
<polygon stroke-width="1.6" points="918,1081.7 936.4,1081.7 928.1,1098.3 926.3,1098.3"/>
<polygon stroke-width="1.6" points="925.7,1082.4 944.1,1082.4 935.8,1099 934,1099"/>
<polygon stroke-width="1.6" points="933.5,1083.1 951.9,1083.1 943.6,1099.7 941.8,1099.7"/>
<polygon stroke-width="1.6" points="941.2,1083.7 959.6,1083.7 951.3,1100.3 949.5,1100.3"/>
<polygon stroke-width="1.6" points="949,1084.4 967.4,1084.4 959.1,1101 957.3,1101"/>
<polygon stroke-width="1.6" points="956.8,1085 975.2,1085 966.9,1101.6 965.1,1101.6"/>
<polygon stroke-width="1.6" points="964.5,1085.6 982.9,1085.6 974.6,1102.2 972.8,1102.2"/>
<polygon stroke-width="1.6" points="972.3,1086.2 990.7,1086.2 982.4,1102.8 980.6,1102.8"/>
<polygon stroke-width="1.6" points="980.1,1086.7 998.5,1086.7 990.2,1103.3 988.4,1103.3"/>
<polygon stroke-width="1.6" points="987.8,1087.3 1006.2,1087.3 997.9,1103.9 996.1,1103.9"/>
<polygon stroke-width="1.6" points="995.6,1087.8 1014,1087.8 1005.7,1104.4 1003.9,1104.4"/>
<polygon stroke-width="1.6" points="1003.4,1088.3 1021.8,1088.3 1013.5,1104.9 1011.7,1104.9"/>
<polygon stroke-width="1.6" points="1011.1,1088.8 1029.5,1088.8 1021.2,1105.4 1019.4,1105.4"/>
<polygon stroke-width="1.6" points="1018.9,1089.3 1037.3,1089.3 1029,1105.9 1027.2,1105.9"/>
<polygon stroke-width="1.6" points="1026.7,1089.7 1045.1,1089.7 1036.8,1106.3 1035,1106.3"/>
<polygon stroke-width="1.6" points="1034.4,1090.2 1052.8,1090.2 1044.5,1106.8 1042.7,1106.8"/>
<polygon stroke-width="1.6" points="1042.2,1090.6 1060.6,1090.6 1052.3,1107.2 1050.5,1107.2"/>
<polygon stroke-width="1.6" points="1050,1091 1068.4,1091 1060.1,1107.6 1058.3,1107.6"/>
<polygon stroke-width="1.6" points="1057.7,1091.4 1076.1,1091.4 1067.8,1108 1066,1108"/>
<polygon stroke-width="1.6" points="1065.5,1091.8 1083.9,1091.8 1075.6,1108.4 1073.8,1108.4"/>
<polygon stroke-width="1.6" points="1073.2,1092.2 1091.7,1092.2 1083.4,1108.8 1081.5,1108.8"/>
<polygon stroke-width="1.6" points="1081,1092.5 1099.4,1092.5 1091.1,1109.1 1089.3,1109.1"/>
<polygon stroke-width="1.6" points="1088.8,1092.9 1107.2,1092.9 1098.9,1109.5 1097.1,1109.5"/>
<polygon stroke-width="1.6" points="1096.5,1093.2 1114.9,1093.2 1106.6,1109.8 1104.8,1109.8"/>
<polygon stroke-width="1.6" points="1104.3,1093.5 1122.7,1093.5 1114.4,1110.1 1112.6,1110.1"/>
<polygon stroke-width="1.6" points="1112.1,1093.9 1130.5,1093.9 1122.2,1110.5 1120.4,1110.5"/>
<polygon stroke-width="1.6" points="1119.8,1094.1 1138.2,1094.1 1129.9,1110.7 1128.1,1110.7"/>
<polygon stroke-width="1.6" points="1127.6,1094.4 1146,1094.4 1137.7,1111 1135.9,1111"/>
<polygon stroke-width="1.6" points="1135.4,1094.7 1153.8,1094.7 1145.5,1111.3 1143.7,1111.3"/>
<polygon stroke-width="1.6" points="1143.1,1095 1161.5,1095 1153.2,1111.6 1151.4,1111.6"/>
<polygon stroke-width="1.6" points="1150.9,1095.2 1169.3,1095.2 1161,1111.8 1159.2,1111.8"/>
<polygon stroke-width="1.6" points="1158.7,1095.5 1177.1,1095.5 1168.8,1112.1 1167,1112.1"/>
<polygon stroke-width="1.6" points="1166.4,1095.7 1184.8,1095.7 1176.5,1112.3 1174.7,1112.3"/>
<polygon stroke-width="1.6" points="1174.2,1095.9 1192.6,1095.9 1184.3,1112.5 1182.5,1112.5"/>
<polygon stroke-width="1.6" points="1182,1096.1 1200.4,1096.1 1192.1,1112.7 1190.3,1112.7"/>
<polygon stroke-width="1.6" points="1189.7,1096.3 1208.1,1096.3 1199.8,1112.9 1198,1112.9"/>
<polygon stroke-width="1.6" points="1197.5,1096.5 1215.9,1096.5 1207.6,1113.1 1205.8,1113.1"/>
<polygon stroke-width="1.6" points="1205.3,1096.7 1223.7,1096.7 1215.4,1113.3 1213.6,1113.3"/>
<polygon stroke-width="1.6" points="1213,1096.9 1231.4,1096.9 1223.1,1113.5 1221.3,1113.5"/>
<polygon stroke-width="1.6" points="1220.8,1097.1 1239.2,1097.1 1230.9,1113.7 1229.1,1113.7"/>
<polygon stroke-width="1.6" points="1228.5,1097.3 1247,1097.3 1238.7,1113.9 1236.8,1113.9"/>
<polygon stroke-width="1.6" points="1236.3,1097.4 1254.7,1097.4 1246.4,1114 1244.6,1114"/>
<polygon stroke-width="1.6" points="1244.1,1097.6 1262.5,1097.6 1254.2,1114.2 1252.4,1114.2"/>
<polygon stroke-width="1.6" points="1251.8,1097.8 1270.2,1097.8 1261.9,1114.4 1260.1,1114.4"/>
<polygon stroke-width="1.6" points="1259.6,1097.9 1278,1097.9 1269.7,1114.5 1267.9,1114.5"/>
<polygon stroke-width="1.6" points="1267.4,1098.1 1285.8,1098.1 1277.5,1114.7 1275.7,1114.7"/>
<polygon stroke-width="1.6" points="1275.1,1098.2 1293.5,1098.2 1285.2,1114.8 1283.4,1114.8"/>
<polygon stroke-width="1.6" points="1282.9,1098.3 1301.3,1098.3 1293,1114.9 1291.2,1114.9"/>
<polygon stroke-width="1.6" points="1290.7,1098.5 1309.1,1098.5 1300.8,1115.1 1299,1115.1"/>
<polygon stroke-width="1.6" points="1298.4,1098.6 1316.8,1098.6 1308.5,1115.2 1306.7,1115.2"/>
<polygon stroke-width="1.6" points="1306.2,1098.7 1324.6,1098.7 1316.3,1115.3 1314.5,1115.3"/>
<polygon stroke-width="1.6" points="1314,1098.9 1332.4,1098.9 1324.1,1115.5 1322.3,1115.5"/>
<polygon stroke-width="1.6" points="1321.7,1099 1340.1,1099 1331.8,1115.6 1330,1115.6"/>
<polygon stroke-width="1.6" points="1329.5,1099.1 1347.9,1099.1 1339.6,1115.7 1337.8,1115.7"/>
<polygon stroke-width="1.6" points="1337.3,1099.2 1355.7,1099.2 1347.4,1115.8 1345.6,1115.8"/>
<polygon stroke-width="1.6" points="1345,1099.3 1363.4,1099.3 1355.1,1115.9 1353.3,1115.9"/>
<polygon stroke-width="1.6" points="1352.8,1099.5 1371.2,1099.5 1362.9,1116.1 1361.1,1116.1"/>
<polygon stroke-width="1.6" points="1360.6,1099.6 1379,1099.6 1370.7,1116.2 1368.9,1116.2"/>
<polygon stroke-width="1.6" points="1368.3,1099.7 1386.7,1099.7 1378.4,1116.3 1376.6,1116.3"/>
<polygon stroke-width="1.6" points="1376.1,1099.8 1394.5,1099.8 1386.2,1116.4 1384.4,1116.4"/>
<polygon stroke-width="1.6" points="1383.8,1099.9 1402.2,1099.9 1394,1116.5 1392.1,1116.5"/>
<polygon stroke-width="1.6" points="1391.6,1100 1410,1100 1401.7,1116.6 1399.9,1116.6"/>
<polygon stroke-width="1.6" points="1399.4,1100.1 1417.8,1100.1 1409.5,1116.7 1407.7,1116.7"/>
<polygon stroke-width="1.6" points="1407.1,1100.2 1425.5,1100.2 1417.2,1116.8 1415.4,1116.8"/>
<polygon stroke-width="1.6" points="1414.9,1100.3 1433.3,1100.3 1425,1116.9 1423.2,1116.9"/>
<polygon stroke-width="1.6" points="1422.7,1100.5 1441.1,1100.5 1432.8,1117.1 1431,1117.1"/>
<polygon stroke-width="1.6" points="1430.4,1100.6 1448.8,1100.6 1440.5,1117.2 1438.7,1117.2"/>
<polygon stroke-width="1.6" points="1438.2,1100.7 1456.6,1100.7 1448.3,1117.3 1446.5,1117.3"/>
<polygon stroke-width="1.6" points="1446,1100.7 1464.4,1100.7 1456.1,1117.3 1454.3,1117.3"/>
<polygon stroke-width="1.6" points="1453.7,1100.8 1472.1,1100.8 1463.8,1117.4 1462,1117.4"/>
<polygon stroke-width="1.6" points="1461.5,1100.9 1479.9,1100.9 1471.6,1117.5 1469.8,1117.5"/>
<polygon stroke-width="1.6" points="1469.3,1101 1487.7,1101 1479.4,1117.6 1477.6,1117.6"/>
<polygon stroke-width="1.6" points="1477,1101.1 1495.4,1101.1 1487.1,1117.7 1485.3,1117.7"/>
<polygon stroke-width="1.6" points="1484.8,1101.2 1503.2,1101.2 1494.9,1117.8 1493.1,1117.8"/>
<polygon stroke-width="1.6" points="1492.6,1101.3 1511,1101.3 1502.7,1117.9 1500.9,1117.9"/>
<polygon stroke-width="1.6" points="1500.3,1101.4 1518.7,1101.4 1510.4,1118 1508.6,1118"/>
<polygon stroke-width="1.6" points="1508.1,1101.5 1526.5,1101.5 1518.2,1118.1 1516.4,1118.1"/>
<polygon stroke-width="1.6" points="1515.9,1101.6 1534.3,1101.6 1526,1118.2 1524.2,1118.2"/>
<polygon stroke-width="1.6" points="1523.6,1101.6 1542,1101.6 1533.7,1118.2 1531.9,1118.2"/>
<polygon stroke-width="1.6" points="1531.4,1101.7 1549.8,1101.7 1541.5,1118.3 1539.7,1118.3"/>
<polygon stroke-width="1.6" points="1539.1,1101.8 1557.5,1101.8 1549.2,1118.4 1547.4,1118.4"/>
<polygon stroke-width="1.6" points="1546.9,1101.9 1565.3,1101.9 1557,1118.5 1555.2,1118.5"/>
<polygon stroke-width="1.6" points="1554.7,1101.9 1573.1,1101.9 1564.8,1118.5 1563,1118.5"/>
<polygon stroke-width="1.6" points="1562.4,1102 1580.8,1102 1572.5,1118.6 1570.7,1118.6"/>
<polygon stroke-width="1.6" points="1570.2,1102.1 1588.6,1102.1 1580.3,1118.7 1578.5,1118.7"/>
<polygon stroke-width="1.6" points="1578,1102.2 1596.4,1102.2 1588.1,1118.8 1586.3,1118.8"/>
<polygon stroke-width="1.6" points="1585.7,1102.2 1604.1,1102.2 1595.8,1118.8 1594,1118.8"/>
<polygon stroke-width="1.6" points="1593.5,1102.3 1611.9,1102.3 1603.6,1118.9 1601.8,1118.9"/>
<polygon stroke-width="1.6" points="1601.3,1102.4 1619.7,1102.4 1611.4,1119 1609.6,1119"/>
<polygon stroke-width="1.6" points="1609,1102.4 1627.4,1102.4 1619.1,1119 1617.3,1119"/>
<polygon stroke-width="1.6" points="1616.8,1102.5 1635.2,1102.5 1626.9,1119.1 1625.1,1119.1"/>
<polygon stroke-width="1.6" points="1624.6,1102.6 1643,1102.6 1634.7,1119.2 1632.9,1119.2"/>
<polygon stroke-width="1.6" points="1632.3,1102.6 1650.7,1102.6 1642.4,1119.2 1640.6,1119.2"/>
<polygon stroke-width="1.6" points="1640.1,1102.7 1658.5,1102.7 1650.2,1119.3 1648.4,1119.3"/>
<polygon stroke-width="1.6" points="1647.9,1102.7 1666.3,1102.7 1658,1119.3 1656.2,1119.3"/>
<polygon stroke-width="1.6" points="1655.6,1102.8 1674,1102.8 1665.7,1119.4 1663.9,1119.4"/>
<polygon stroke-width="1.6" points="1663.4,1102.9 1681.8,1102.9 1673.5,1119.5 1671.7,1119.5"/>
<polygon stroke-width="1.6" points="1671.2,1102.9 1689.6,1102.9 1681.3,1119.5 1679.5,1119.5"/>
<polygon stroke-width="1.6" points="1678.9,1103 1697.3,1103 1689,1119.6 1687.2,1119.6"/>
<polygon stroke-width="1.6" points="1686.7,1103 1705.1,1103 1696.8,1119.6 1695,1119.6"/>
<polygon stroke-width="1.6" points="1694.4,1103.1 1712.8,1103.1 1704.5,1119.7 1702.7,1119.7"/>
<polygon stroke-width="1.6" points="1702.2,1103.1 1720.6,1103.1 1712.3,1119.7 1710.5,1119.7"/>
<polygon stroke-width="1.6" points="1710,1103.2 1728.4,1103.2 1720.1,1119.8 1718.3,1119.8"/>
<polygon stroke-width="1.6" points="1717.7,1103.2 1736.1,1103.2 1727.8,1119.8 1726,1119.8"/>
<polygon stroke-width="1.6" points="1725.5,1103.3 1743.9,1103.3 1735.6,1119.9 1733.8,1119.9"/>
<polygon stroke-width="1.6" points="1733.3,1103.3 1751.7,1103.3 1743.4,1119.9 1741.6,1119.9"/>
<polygon stroke-width="1.6" points="1741,1103.4 1759.4,1103.4 1751.1,1120 1749.3,1120"/>
<polygon stroke-width="1.6" points="1748.8,1103.4 1767.2,1103.4 1758.9,1120 1757.1,1120"/>
<polygon stroke-width="1.6" points="1756.6,1103.4 1775,1103.4 1766.7,1120 1764.9,1120"/>
<polygon stroke-width="1.6" points="1764.3,1103.5 1782.7,1103.5 1774.4,1120.1 1772.6,1120.1"/>
<polygon stroke-width="1.6" points="1772.1,1103.5 1790.5,1103.5 1782.2,1120.1 1780.4,1120.1"/>
<polygon stroke-width="1.6" points="1779.9,1103.6 1798.3,1103.6 1790,1120.2 1788.2,1120.2"/>
<polygon stroke-width="1.6" points="1787.6,1103.6 1806,1103.6 1797.7,1120.2 1795.9,1120.2"/>
<polygon stroke-width="1.6" points="1795.4,1103.6 1813.8,1103.6 1805.5,1120.2 1803.7,1120.2"/>
<polygon stroke-width="1.6" points="1803.2,1103.7 1821.6,1103.7 1813.3,1120.3 1811.5,1120.3"/>
<polygon stroke-width="1.6" points="1810.9,1103.7 1829.3,1103.7 1821,1120.3 1819.2,1120.3"/>
<polygon stroke-width="1.6" points="1818.7,1103.7 1837.1,1103.7 1828.8,1120.3 1827,1120.3"/>
<polygon stroke-width="1.6" points="1826.5,1103.8 1844.9,1103.8 1836.6,1120.4 1834.8,1120.4"/>
<polygon stroke-width="1.6" points="1834.2,1103.8 1852.6,1103.8 1844.3,1120.4 1842.5,1120.4"/>
<polygon stroke-width="1.6" points="1842,1103.8 1860.4,1103.8 1852.1,1120.4 1850.3,1120.4"/>
<polygon stroke-width="1.6" points="1849.7,1103.9 1868.1,1103.9 1859.8,1120.5 1858,1120.5"/>
<polygon stroke-width="1.6" points="1857.5,1103.9 1875.9,1103.9 1867.6,1120.5 1865.8,1120.5"/>
<polygon stroke-width="1.6" points="1865.3,1103.9 1883.7,1103.9 1875.4,1120.5 1873.6,1120.5"/>
<polygon stroke-width="1.6" points="1873,1104 1891.4,1104 1883.1,1120.6 1881.3,1120.6"/>
<polygon stroke-width="1.6" points="1880.8,1104 1899.2,1104 1890.9,1120.6 1889.1,1120.6"/>
<polygon stroke-width="1.6" points="1888.6,1104 1907,1104 1898.7,1120.6 1896.9,1120.6"/>
<polygon stroke-width="1.6" points="1896.3,1104 1914.7,1104 1906.4,1120.6 1904.6,1120.6"/>
<polygon stroke-width="1.6" points="1904.1,1104.1 1922.5,1104.1 1914.2,1120.7 1912.4,1120.7"/>
<polygon stroke-width="1.6" points="1911.9,1104.1 1930.3,1104.1 1922,1120.7 1920.2,1120.7"/>
<polygon stroke-width="1.6" points="1919.6,1104.1 1938,1104.1 1929.7,1120.7 1927.9,1120.7"/>
<polygon stroke-width="1.6" points="1927.4,1104.1 1945.8,1104.1 1937.5,1120.7 1935.7,1120.7"/>
<polygon stroke-width="1.6" points="1935.2,1104.1 1953.6,1104.1 1945.3,1120.7 1943.5,1120.7"/>
</g>
<g fill="#3333cc">
<polygon points="250.7,73.2 268.1,73.2 260,88.8 258.8,88.8"/>
<polygon points="258.6,139.5 276,139.5 267.9,155.1 266.7,155.1"/>
<polygon points="266.1,200.2 283.5,200.2 275.4,215.8 274.2,215.8"/>
<polygon points="274,255.4 291.4,255.4 283.3,271 282.1,271"/>
<polygon points="281.5,307.4 298.9,307.4 290.8,323 289.6,323"/>
<polygon points="289.2,356.5 306.6,356.5 298.5,372.1 297.3,372.1"/>
<polygon points="297,404.7 314.4,404.7 306.3,420.3 305.1,420.3"/>
<polygon points="304.9,445.8 322.3,445.8 314.2,461.4 313,461.4"/>
<polygon points="312.8,484.7 330.2,484.7 322.1,500.3 320.9,500.3"/>
<polygon points="320.3,520.2 337.7,520.2 329.6,535.8 328.4,535.8"/>
<polygon points="328.3,554.1 345.7,554.1 337.6,569.7 336.4,569.7"/>
<polygon points="336.2,585.5 353.6,585.5 345.5,601.1 344.3,601.1"/>
<polygon points="343.3,614.5 360.7,614.5 352.6,630.1 351.4,630.1"/>
<polygon points="350.9,642.1 368.3,642.1 360.2,657.7 359,657.7"/>
<polygon points="359.2,667.3 376.6,667.3 368.5,682.9 367.3,682.9"/>
<polygon points="367.1,691.1 384.5,691.1 376.4,706.7 375.2,706.7"/>
<polygon points="374.7,713.8 392.1,713.8 384,729.4 382.8,729.4"/>
<polygon points="382.3,733.8 399.7,733.8 391.6,749.4 390.4,749.4"/>
<polygon points="389.9,752.8 407.3,752.8 399.2,768.4 398,768.4"/>
<polygon points="398.2,770.8 415.6,770.8 407.5,786.4 406.3,786.4"/>
<polygon points="406,787.9 423.4,787.9 415.3,803.5 414.1,803.5"/>
<polygon points="413.7,804.1 431.1,804.1 423,819.7 421.8,819.7"/>
<polygon points="421,818.8 439.4,818.8 431.1,835.4 429.3,835.4"/>
<polygon points="428.8,833.2 447.2,833.2 438.9,849.8 437.1,849.8"/>
<polygon points="436.5,846.7 454.9,846.7 446.6,863.3 444.8,863.3"/>
<polygon points="444.3,859.5 462.7,859.5 454.4,876.1 452.6,876.1"/>
<polygon points="452.1,871.5 470.4,871.5 462.1,888.1 460.4,888.1"/>
<polygon points="459.8,882.7 478.2,882.7 469.9,899.3 468.1,899.3"/>
<polygon points="467.6,893.3 486,893.3 477.7,909.9 475.9,909.9"/>
<polygon points="475.3,903.3 493.7,903.3 485.4,919.9 483.6,919.9"/>
<polygon points="483.1,912.6 501.5,912.6 493.2,929.2 491.4,929.2"/>
<polygon points="490.9,921.4 509.3,921.4 501,938 499.2,938"/>
<polygon points="498.6,929.7 517,929.7 508.7,946.3 506.9,946.3"/>
<polygon points="506.4,937.5 524.8,937.5 516.5,954.1 514.7,954.1"/>
<polygon points="514.2,944.8 532.6,944.8 524.3,961.4 522.5,961.4"/>
<polygon points="521.9,951.7 540.3,951.7 532,968.3 530.2,968.3"/>
<polygon points="529.7,958.3 548.1,958.3 539.8,974.9 538,974.9"/>
<polygon points="537.5,964.5 555.9,964.5 547.6,981.1 545.8,981.1"/>
<polygon points="545.2,970.5 563.6,970.5 555.3,987.1 553.5,987.1"/>
<polygon points="553,976.1 571.4,976.1 563.1,992.7 561.3,992.7"/>
<polygon points="560.8,981.6 579.2,981.6 570.9,998.2 569.1,998.2"/>
<polygon points="568.5,986.7 586.9,986.7 578.6,1003.3 576.8,1003.3"/>
<polygon points="576.3,991.7 594.7,991.7 586.4,1008.3 584.6,1008.3"/>
<polygon points="584.1,996.4 602.5,996.4 594.2,1013 592.4,1013"/>
<polygon points="591.8,1001 610.2,1001 601.9,1017.6 600.1,1017.6"/>
<polygon points="599.6,1005.3 618,1005.3 609.7,1021.9 607.9,1021.9"/>
<polygon points="607.3,1009.4 625.8,1009.4 617.4,1026 615.6,1026"/>
<polygon points="615.1,1013.3 633.5,1013.3 625.2,1029.9 623.4,1029.9"/>
<polygon points="622.9,1017 641.3,1017 633,1033.6 631.2,1033.6"/>
<polygon points="630.6,1020.6 649,1020.6 640.7,1037.2 638.9,1037.2"/>
<polygon points="638.4,1023.9 656.8,1023.9 648.5,1040.5 646.7,1040.5"/>
<polygon points="646.2,1027.2 664.6,1027.2 656.3,1043.8 654.5,1043.8"/>
<polygon points="653.9,1030.2 672.3,1030.2 664,1046.8 662.2,1046.8"/>
<polygon points="661.7,1033.1 680.1,1033.1 671.8,1049.7 670,1049.7"/>
<polygon points="669.5,1035.9 687.9,1035.9 679.6,1052.5 677.8,1052.5"/>
<polygon points="677.2,1038.6 695.6,1038.6 687.3,1055.2 685.5,1055.2"/>
<polygon points="685,1041.1 703.4,1041.1 695.1,1057.7 693.3,1057.7"/>
<polygon points="692.8,1043.5 711.2,1043.5 702.9,1060.1 701.1,1060.1"/>
<polygon points="700.5,1045.8 718.9,1045.8 710.6,1062.4 708.8,1062.4"/>
<polygon points="708.3,1048 726.7,1048 718.4,1064.6 716.6,1064.6"/>
<polygon points="716.1,1050 734.5,1050 726.2,1066.6 724.4,1066.6"/>
<polygon points="723.8,1052.1 742.2,1052.1 733.9,1068.7 732.1,1068.7"/>
<polygon points="731.6,1054 750,1054 741.7,1070.6 739.9,1070.6"/>
<polygon points="739.4,1055.8 757.8,1055.8 749.5,1072.4 747.7,1072.4"/>
<polygon points="747.1,1057.5 765.5,1057.5 757.2,1074.1 755.4,1074.1"/>
<polygon points="754.9,1059.2 773.3,1059.2 765,1075.8 763.2,1075.8"/>
<polygon points="762.6,1060.8 781,1060.8 772.7,1077.4 770.9,1077.4"/>
<polygon points="770.4,1062.3 788.8,1062.3 780.5,1078.9 778.7,1078.9"/>
<polygon points="778.2,1063.8 796.6,1063.8 788.3,1080.4 786.5,1080.4"/>
<polygon points="785.9,1065.2 804.3,1065.2 796,1081.8 794.2,1081.8"/>
<polygon points="793.7,1066.5 812.1,1066.5 803.8,1083.1 802,1083.1"/>
<polygon points="801.5,1067.8 819.9,1067.8 811.6,1084.4 809.8,1084.4"/>
<polygon points="809.2,1069 827.6,1069 819.3,1085.6 817.5,1085.6"/>
<polygon points="817,1070.1 835.4,1070.1 827.1,1086.7 825.3,1086.7"/>
<polygon points="824.8,1071.2 843.2,1071.2 834.9,1087.8 833.1,1087.8"/>
<polygon points="832.5,1072.3 850.9,1072.3 842.6,1088.9 840.8,1088.9"/>
<polygon points="840.3,1073.3 858.7,1073.3 850.4,1089.9 848.6,1089.9"/>
<polygon points="848.1,1074.3 866.5,1074.3 858.2,1090.9 856.4,1090.9"/>
<polygon points="855.8,1075.2 874.2,1075.2 865.9,1091.8 864.1,1091.8"/>
<polygon points="863.6,1076.1 882,1076.1 873.7,1092.7 871.9,1092.7"/>
<polygon points="871.4,1077 889.8,1077 881.5,1093.6 879.7,1093.6"/>
<polygon points="879.1,1077.8 897.5,1077.8 889.2,1094.4 887.4,1094.4"/>
<polygon points="886.9,1078.6 905.3,1078.6 897,1095.2 895.2,1095.2"/>
<polygon points="894.7,1079.4 913.1,1079.4 904.8,1096 903,1096"/>
<polygon points="902.4,1080.2 920.8,1080.2 912.5,1096.8 910.7,1096.8"/>
<polygon points="910.2,1080.9 928.6,1080.9 920.3,1097.5 918.5,1097.5"/>
<polygon points="918,1081.7 936.4,1081.7 928.1,1098.3 926.3,1098.3"/>
<polygon points="925.7,1082.4 944.1,1082.4 935.8,1099 934,1099"/>
<polygon points="933.5,1083.1 951.9,1083.1 943.6,1099.7 941.8,1099.7"/>
<polygon points="941.2,1083.7 959.6,1083.7 951.3,1100.3 949.5,1100.3"/>
<polygon points="949,1084.4 967.4,1084.4 959.1,1101 957.3,1101"/>
<polygon points="956.8,1085 975.2,1085 966.9,1101.6 965.1,1101.6"/>
<polygon points="964.5,1085.6 982.9,1085.6 974.6,1102.2 972.8,1102.2"/>
<polygon points="972.3,1086.2 990.7,1086.2 982.4,1102.8 980.6,1102.8"/>
<polygon points="980.1,1086.7 998.5,1086.7 990.2,1103.3 988.4,1103.3"/>
<polygon points="987.8,1087.3 1006.2,1087.3 997.9,1103.9 996.1,1103.9"/>
<polygon points="995.6,1087.8 1014,1087.8 1005.7,1104.4 1003.9,1104.4"/>
<polygon points="1003.4,1088.3 1021.8,1088.3 1013.5,1104.9 1011.7,1104.9"/>
<polygon points="1011.1,1088.8 1029.5,1088.8 1021.2,1105.4 1019.4,1105.4"/>
<polygon points="1018.9,1089.3 1037.3,1089.3 1029,1105.9 1027.2,1105.9"/>
<polygon points="1026.7,1089.7 1045.1,1089.7 1036.8,1106.3 1035,1106.3"/>
<polygon points="1034.4,1090.2 1052.8,1090.2 1044.5,1106.8 1042.7,1106.8"/>
<polygon points="1042.2,1090.6 1060.6,1090.6 1052.3,1107.2 1050.5,1107.2"/>
<polygon points="1050,1091 1068.4,1091 1060.1,1107.6 1058.3,1107.6"/>
<polygon points="1057.7,1091.4 1076.1,1091.4 1067.8,1108 1066,1108"/>
<polygon points="1065.5,1091.8 1083.9,1091.8 1075.6,1108.4 1073.8,1108.4"/>
<polygon points="1073.2,1092.2 1091.7,1092.2 1083.4,1108.8 1081.5,1108.8"/>
<polygon points="1081,1092.5 1099.4,1092.5 1091.1,1109.1 1089.3,1109.1"/>
<polygon points="1088.8,1092.9 1107.2,1092.9 1098.9,1109.5 1097.1,1109.5"/>
<polygon points="1096.5,1093.2 1114.9,1093.2 1106.6,1109.8 1104.8,1109.8"/>
<polygon points="1104.3,1093.5 1122.7,1093.5 1114.4,1110.1 1112.6,1110.1"/>
<polygon points="1112.1,1093.9 1130.5,1093.9 1122.2,1110.5 1120.4,1110.5"/>
<polygon points="1119.8,1094.1 1138.2,1094.1 1129.9,1110.7 1128.1,1110.7"/>
<polygon points="1127.6,1094.4 1146,1094.4 1137.7,1111 1135.9,1111"/>
<polygon points="1135.4,1094.7 1153.8,1094.7 1145.5,1111.3 1143.7,1111.3"/>
<polygon points="1143.1,1095 1161.5,1095 1153.2,1111.6 1151.4,1111.6"/>
<polygon points="1150.9,1095.2 1169.3,1095.2 1161,1111.8 1159.2,1111.8"/>
<polygon points="1158.7,1095.5 1177.1,1095.5 1168.8,1112.1 1167,1112.1"/>
<polygon points="1166.4,1095.7 1184.8,1095.7 1176.5,1112.3 1174.7,1112.3"/>
<polygon points="1174.2,1095.9 1192.6,1095.9 1184.3,1112.5 1182.5,1112.5"/>
<polygon points="1182,1096.1 1200.4,1096.1 1192.1,1112.7 1190.3,1112.7"/>
<polygon points="1189.7,1096.3 1208.1,1096.3 1199.8,1112.9 1198,1112.9"/>
<polygon points="1197.5,1096.5 1215.9,1096.5 1207.6,1113.1 1205.8,1113.1"/>
<polygon points="1205.3,1096.7 1223.7,1096.7 1215.4,1113.3 1213.6,1113.3"/>
<polygon points="1213,1096.9 1231.4,1096.9 1223.1,1113.5 1221.3,1113.5"/>
<polygon points="1220.8,1097.1 1239.2,1097.1 1230.9,1113.7 1229.1,1113.7"/>
<polygon points="1228.5,1097.3 1247,1097.3 1238.7,1113.9 1236.8,1113.9"/>
<polygon points="1236.3,1097.4 1254.7,1097.4 1246.4,1114 1244.6,1114"/>
<polygon points="1244.1,1097.6 1262.5,1097.6 1254.2,1114.2 1252.4,1114.2"/>
<polygon points="1251.8,1097.8 1270.2,1097.8 1261.9,1114.4 1260.1,1114.4"/>
<polygon points="1259.6,1097.9 1278,1097.9 1269.7,1114.5 1267.9,1114.5"/>
<polygon points="1267.4,1098.1 1285.8,1098.1 1277.5,1114.7 1275.7,1114.7"/>
<polygon points="1275.1,1098.2 1293.5,1098.2 1285.2,1114.8 1283.4,1114.8"/>
<polygon points="1282.9,1098.3 1301.3,1098.3 1293,1114.9 1291.2,1114.9"/>
<polygon points="1290.7,1098.5 1309.1,1098.5 1300.8,1115.1 1299,1115.1"/>
<polygon points="1298.4,1098.6 1316.8,1098.6 1308.5,1115.2 1306.7,1115.2"/>
<polygon points="1306.2,1098.7 1324.6,1098.7 1316.3,1115.3 1314.5,1115.3"/>
<polygon points="1314,1098.9 1332.4,1098.9 1324.1,1115.5 1322.3,1115.5"/>
<polygon points="1321.7,1099 1340.1,1099 1331.8,1115.6 1330,1115.6"/>
<polygon points="1329.5,1099.1 1347.9,1099.1 1339.6,1115.7 1337.8,1115.7"/>
<polygon points="1337.3,1099.2 1355.7,1099.2 1347.4,1115.8 1345.6,1115.8"/>
<polygon points="1345,1099.3 1363.4,1099.3 1355.1,1115.9 1353.3,1115.9"/>
<polygon points="1352.8,1099.5 1371.2,1099.5 1362.9,1116.1 1361.1,1116.1"/>
<polygon points="1360.6,1099.6 1379,1099.6 1370.7,1116.2 1368.9,1116.2"/>
<polygon points="1368.3,1099.7 1386.7,1099.7 1378.4,1116.3 1376.6,1116.3"/>
<polygon points="1376.1,1099.8 1394.5,1099.8 1386.2,1116.4 1384.4,1116.4"/>
<polygon points="1383.8,1099.9 1402.2,1099.9 1394,1116.5 1392.1,1116.5"/>
<polygon points="1391.6,1100 1410,1100 1401.7,1116.6 1399.9,1116.6"/>
<polygon points="1399.4,1100.1 1417.8,1100.1 1409.5,1116.7 1407.7,1116.7"/>
<polygon points="1407.1,1100.2 1425.5,1100.2 1417.2,1116.8 1415.4,1116.8"/>
<polygon points="1414.9,1100.3 1433.3,1100.3 1425,1116.9 1423.2,1116.9"/>
<polygon points="1422.7,1100.5 1441.1,1100.5 1432.8,1117.1 1431,1117.1"/>
<polygon points="1430.4,1100.6 1448.8,1100.6 1440.5,1117.2 1438.7,1117.2"/>
<polygon points="1438.2,1100.7 1456.6,1100.7 1448.3,1117.3 1446.5,1117.3"/>
<polygon points="1446,1100.7 1464.4,1100.7 1456.1,1117.3 1454.3,1117.3"/>
<polygon points="1453.7,1100.8 1472.1,1100.8 1463.8,1117.4 1462,1117.4"/>
<polygon points="1461.5,1100.9 1479.9,1100.9 1471.6,1117.5 1469.8,1117.5"/>
<polygon points="1469.3,1101 1487.7,1101 1479.4,1117.6 1477.6,1117.6"/>
<polygon points="1477,1101.1 1495.4,1101.1 1487.1,1117.7 1485.3,1117.7"/>
<polygon points="1484.8,1101.2 1503.2,1101.2 1494.9,1117.8 1493.1,1117.8"/>
<polygon points="1492.6,1101.3 1511,1101.3 1502.7,1117.9 1500.9,1117.9"/>
<polygon points="1500.3,1101.4 1518.7,1101.4 1510.4,1118 1508.6,1118"/>
<polygon points="1508.1,1101.5 1526.5,1101.5 1518.2,1118.1 1516.4,1118.1"/>
<polygon points="1515.9,1101.6 1534.3,1101.6 1526,1118.2 1524.2,1118.2"/>
<polygon points="1523.6,1101.6 1542,1101.6 1533.7,1118.2 1531.9,1118.2"/>
<polygon points="1531.4,1101.7 1549.8,1101.7 1541.5,1118.3 1539.7,1118.3"/>
<polygon points="1539.1,1101.8 1557.5,1101.8 1549.2,1118.4 1547.4,1118.4"/>
<polygon points="1546.9,1101.9 1565.3,1101.9 1557,1118.5 1555.2,1118.5"/>
<polygon points="1554.7,1101.9 1573.1,1101.9 1564.8,1118.5 1563,1118.5"/>
<polygon points="1562.4,1102 1580.8,1102 1572.5,1118.6 1570.7,1118.6"/>
<polygon points="1570.2,1102.1 1588.6,1102.1 1580.3,1118.7 1578.5,1118.7"/>
<polygon points="1578,1102.2 1596.4,1102.2 1588.1,1118.8 1586.3,1118.8"/>
<polygon points="1585.7,1102.2 1604.1,1102.2 1595.8,1118.8 1594,1118.8"/>
<polygon points="1593.5,1102.3 1611.9,1102.3 1603.6,1118.9 1601.8,1118.9"/>
<polygon points="1601.3,1102.4 1619.7,1102.4 1611.4,1119 1609.6,1119"/>
<polygon points="1609,1102.4 1627.4,1102.4 1619.1,1119 1617.3,1119"/>
<polygon points="1616.8,1102.5 1635.2,1102.5 1626.9,1119.1 1625.1,1119.1"/>
<polygon points="1624.6,1102.6 1643,1102.6 1634.7,1119.2 1632.9,1119.2"/>
<polygon points="1632.3,1102.6 1650.7,1102.6 1642.4,1119.2 1640.6,1119.2"/>
<polygon points="1640.1,1102.7 1658.5,1102.7 1650.2,1119.3 1648.4,1119.3"/>
<polygon points="1647.9,1102.7 1666.3,1102.7 1658,1119.3 1656.2,1119.3"/>
<polygon points="1655.6,1102.8 1674,1102.8 1665.7,1119.4 1663.9,1119.4"/>
<polygon points="1663.4,1102.9 1681.8,1102.9 1673.5,1119.5 1671.7,1119.5"/>
<polygon points="1671.2,1102.9 1689.6,1102.9 1681.3,1119.5 1679.5,1119.5"/>
<polygon points="1678.9,1103 1697.3,1103 1689,1119.6 1687.2,1119.6"/>
<polygon points="1686.7,1103 1705.1,1103 1696.8,1119.6 1695,1119.6"/>
<polygon points="1694.4,1103.1 1712.8,1103.1 1704.5,1119.7 1702.7,1119.7"/>
<polygon points="1702.2,1103.1 1720.6,1103.1 1712.3,1119.7 1710.5,1119.7"/>
<polygon points="1710,1103.2 1728.4,1103.2 1720.1,1119.8 1718.3,1119.8"/>
<polygon points="1717.7,1103.2 1736.1,1103.2 1727.8,1119.8 1726,1119.8"/>
<polygon points="1725.5,1103.3 1743.9,1103.3 1735.6,1119.9 1733.8,1119.9"/>
<polygon points="1733.3,1103.3 1751.7,1103.3 1743.4,1119.9 1741.6,1119.9"/>
<polygon points="1741,1103.4 1759.4,1103.4 1751.1,1120 1749.3,1120"/>
<polygon points="1748.8,1103.4 1767.2,1103.4 1758.9,1120 1757.1,1120"/>
<polygon points="1756.6,1103.4 1775,1103.4 1766.7,1120 1764.9,1120"/>
<polygon points="1764.3,1103.5 1782.7,1103.5 1774.4,1120.1 1772.6,1120.1"/>
<polygon points="1772.1,1103.5 1790.5,1103.5 1782.2,1120.1 1780.4,1120.1"/>
<polygon points="1779.9,1103.6 1798.3,1103.6 1790,1120.2 1788.2,1120.2"/>
<polygon points="1787.6,1103.6 1806,1103.6 1797.7,1120.2 1795.9,1120.2"/>
<polygon points="1795.4,1103.6 1813.8,1103.6 1805.5,1120.2 1803.7,1120.2"/>
<polygon points="1803.2,1103.7 1821.6,1103.7 1813.3,1120.3 1811.5,1120.3"/>
<polygon points="1810.9,1103.7 1829.3,1103.7 1821,1120.3 1819.2,1120.3"/>
<polygon points="1818.7,1103.7 1837.1,1103.7 1828.8,1120.3 1827,1120.3"/>
<polygon points="1826.5,1103.8 1844.9,1103.8 1836.6,1120.4 1834.8,1120.4"/>
<polygon points="1834.2,1103.8 1852.6,1103.8 1844.3,1120.4 1842.5,1120.4"/>
<polygon points="1842,1103.8 1860.4,1103.8 1852.1,1120.4 1850.3,1120.4"/>
<polygon points="1849.7,1103.9 1868.1,1103.9 1859.8,1120.5 1858,1120.5"/>
<polygon points="1857.5,1103.9 1875.9,1103.9 1867.6,1120.5 1865.8,1120.5"/>
<polygon points="1865.3,1103.9 1883.7,1103.9 1875.4,1120.5 1873.6,1120.5"/>
<polygon points="1873,1104 1891.4,1104 1883.1,1120.6 1881.3,1120.6"/>
<polygon points="1880.8,1104 1899.2,1104 1890.9,1120.6 1889.1,1120.6"/>
<polygon points="1888.6,1104 1907,1104 1898.7,1120.6 1896.9,1120.6"/>
<polygon points="1896.3,1104 1914.7,1104 1906.4,1120.6 1904.6,1120.6"/>
<polygon points="1904.1,1104.1 1922.5,1104.1 1914.2,1120.7 1912.4,1120.7"/>
<polygon points="1911.9,1104.1 1930.3,1104.1 1922,1120.7 1920.2,1120.7"/>
<polygon points="1919.6,1104.1 1938,1104.1 1929.7,1120.7 1927.9,1120.7"/>
<polygon points="1927.4,1104.1 1945.8,1104.1 1937.5,1120.7 1935.7,1120.7"/>
<polygon points="1935.2,1104.1 1953.6,1104.1 1945.3,1120.7 1943.5,1120.7"/>
</g>
</g>
<g fill="#000" shape-rendering="crispEdges">
<rect x="227" y="59" width="1714" height="6"/>
<rect x="227" y="1140" width="1714" height="5"/>
<rect x="227" y="59" width="6" height="1086"/>
<rect x="1935" y="59" width="6" height="1086"/>
<rect x="233" y="1116" width="22" height="5"/>
<rect x="233" y="939.9" width="10" height="5"/>
<rect x="233" y="763.8" width="22" height="5"/>
<rect x="233" y="587.6" width="10" height="5"/>
<rect x="233" y="411.5" width="22" height="5"/>
<rect x="233" y="235.4" width="10" height="5"/>
<rect x="398.3" y="1124" width="5" height="16"/>
<rect x="569.1" y="1124" width="5" height="16"/>
<rect x="739.9" y="1124" width="5" height="16"/>
<rect x="910.7" y="1124" width="5" height="16"/>
<rect x="1081.5" y="1124" width="5" height="16"/>
<rect x="1252.3" y="1124" width="5" height="16"/>
<rect x="1423.1" y="1124" width="5" height="16"/>
<rect x="1593.9" y="1124" width="5" height="16"/>
<rect x="1764.7" y="1124" width="5" height="16"/>
</g>
<g class="b" font-size="46" text-anchor="end">
<text x="206" y="1134.5">0</text>
<text x="206" y="781.5">2000</text>
<text x="206" y="431.8">4000</text>
<text x="206" y="78.3">6000</text>
</g>
<g class="b" font-size="46" text-anchor="middle">
<text x="227.2" y="1205">0.1</text>
<text x="571.6" y="1205">0.2</text>
<text x="911.5" y="1205">0.3</text>
<text x="1252.8" y="1205">0.4</text>
<text x="1596.4" y="1205">0.5</text>
<text x="1936.3" y="1205">0.6</text>
</g>
<text class="b" font-size="72" font-style="italic" x="975.3" y="1280.3" textLength="32.7" lengthAdjust="spacingAndGlyphs">q</text>
<text class="b" font-size="71" x="1025" y="1280.3">(</text>
<text class="b" font-size="71" x="1048" y="1280.3" textLength="91.9" lengthAdjust="spacingAndGlyphs">nm</text>
<text class="b" font-size="43" x="1141" y="1248.5">-1</text>
<text class="b" font-size="71" x="1177" y="1280.3">)</text>
<g transform="translate(87.4,0) rotate(-90)">
<text class="b" font-size="75" x="-917" y="0" textLength="596" lengthAdjust="spacingAndGlyphs">Scattering intensity</text>
<text class="b" font-size="63" x="-292" y="0" textLength="25.5" lengthAdjust="spacingAndGlyphs">I</text>
<text class="b" font-size="63" x="-253" y="0">(</text>
<text class="b" font-size="63" x="-234" y="0" font-style="italic">q</text>
<text class="b" font-size="63" x="-203" y="0">)</text>
</g>
<polygon points="1207.6,302.4 1225.4,302.4 1216.5,318.2" fill="#3333cc" stroke="#0000ff" stroke-width="2.4" stroke-linejoin="round"/>
<circle cx="1217.4" cy="509.4" r="7.7" fill="#ff3333" stroke="#ff0000" stroke-width="1.6"/>
<rect x="1209" y="679" width="16.5" height="17" fill="#000" shape-rendering="crispEdges"/>
<text font-size="45.6" y="317.9"><tspan x="1307">PI/TiO</tspan><tspan x="1432.5" y="323.7" font-size="29.5">2</tspan><tspan x="1465" y="312.7">composite material</tspan></text>
<text font-size="45.6" x="1382.2" y="384">(TiO<tspan dy="5.8" font-size="29.5">2</tspan><tspan dy="-5.8"> content=16wt %)</tspan></text>
<text font-size="45.6" y="522.1"><tspan x="1307">PI/TiO</tspan><tspan x="1432.5" y="527.9" font-size="29.5">2</tspan><tspan x="1465" y="516.9">composite material</tspan></text>
<text font-size="45.6" x="1381.5" y="587.8">(TiO<tspan dy="5.8" font-size="29.5">2</tspan><tspan dy="-5.8"> content=10wt %)</tspan></text>
<text font-size="45.6" y="702.9"><tspan x="1307">PI/TiO</tspan><tspan x="1432.5" y="708.7" font-size="29.5">2</tspan><tspan x="1465" y="697.7">composite material</tspan></text>
<text font-size="45.6" x="1403.1" y="767">(TiO<tspan dy="5.8" font-size="29.5">2</tspan><tspan dy="-5.8"> content=2wt %)</tspan></text>
</svg></body></html>
